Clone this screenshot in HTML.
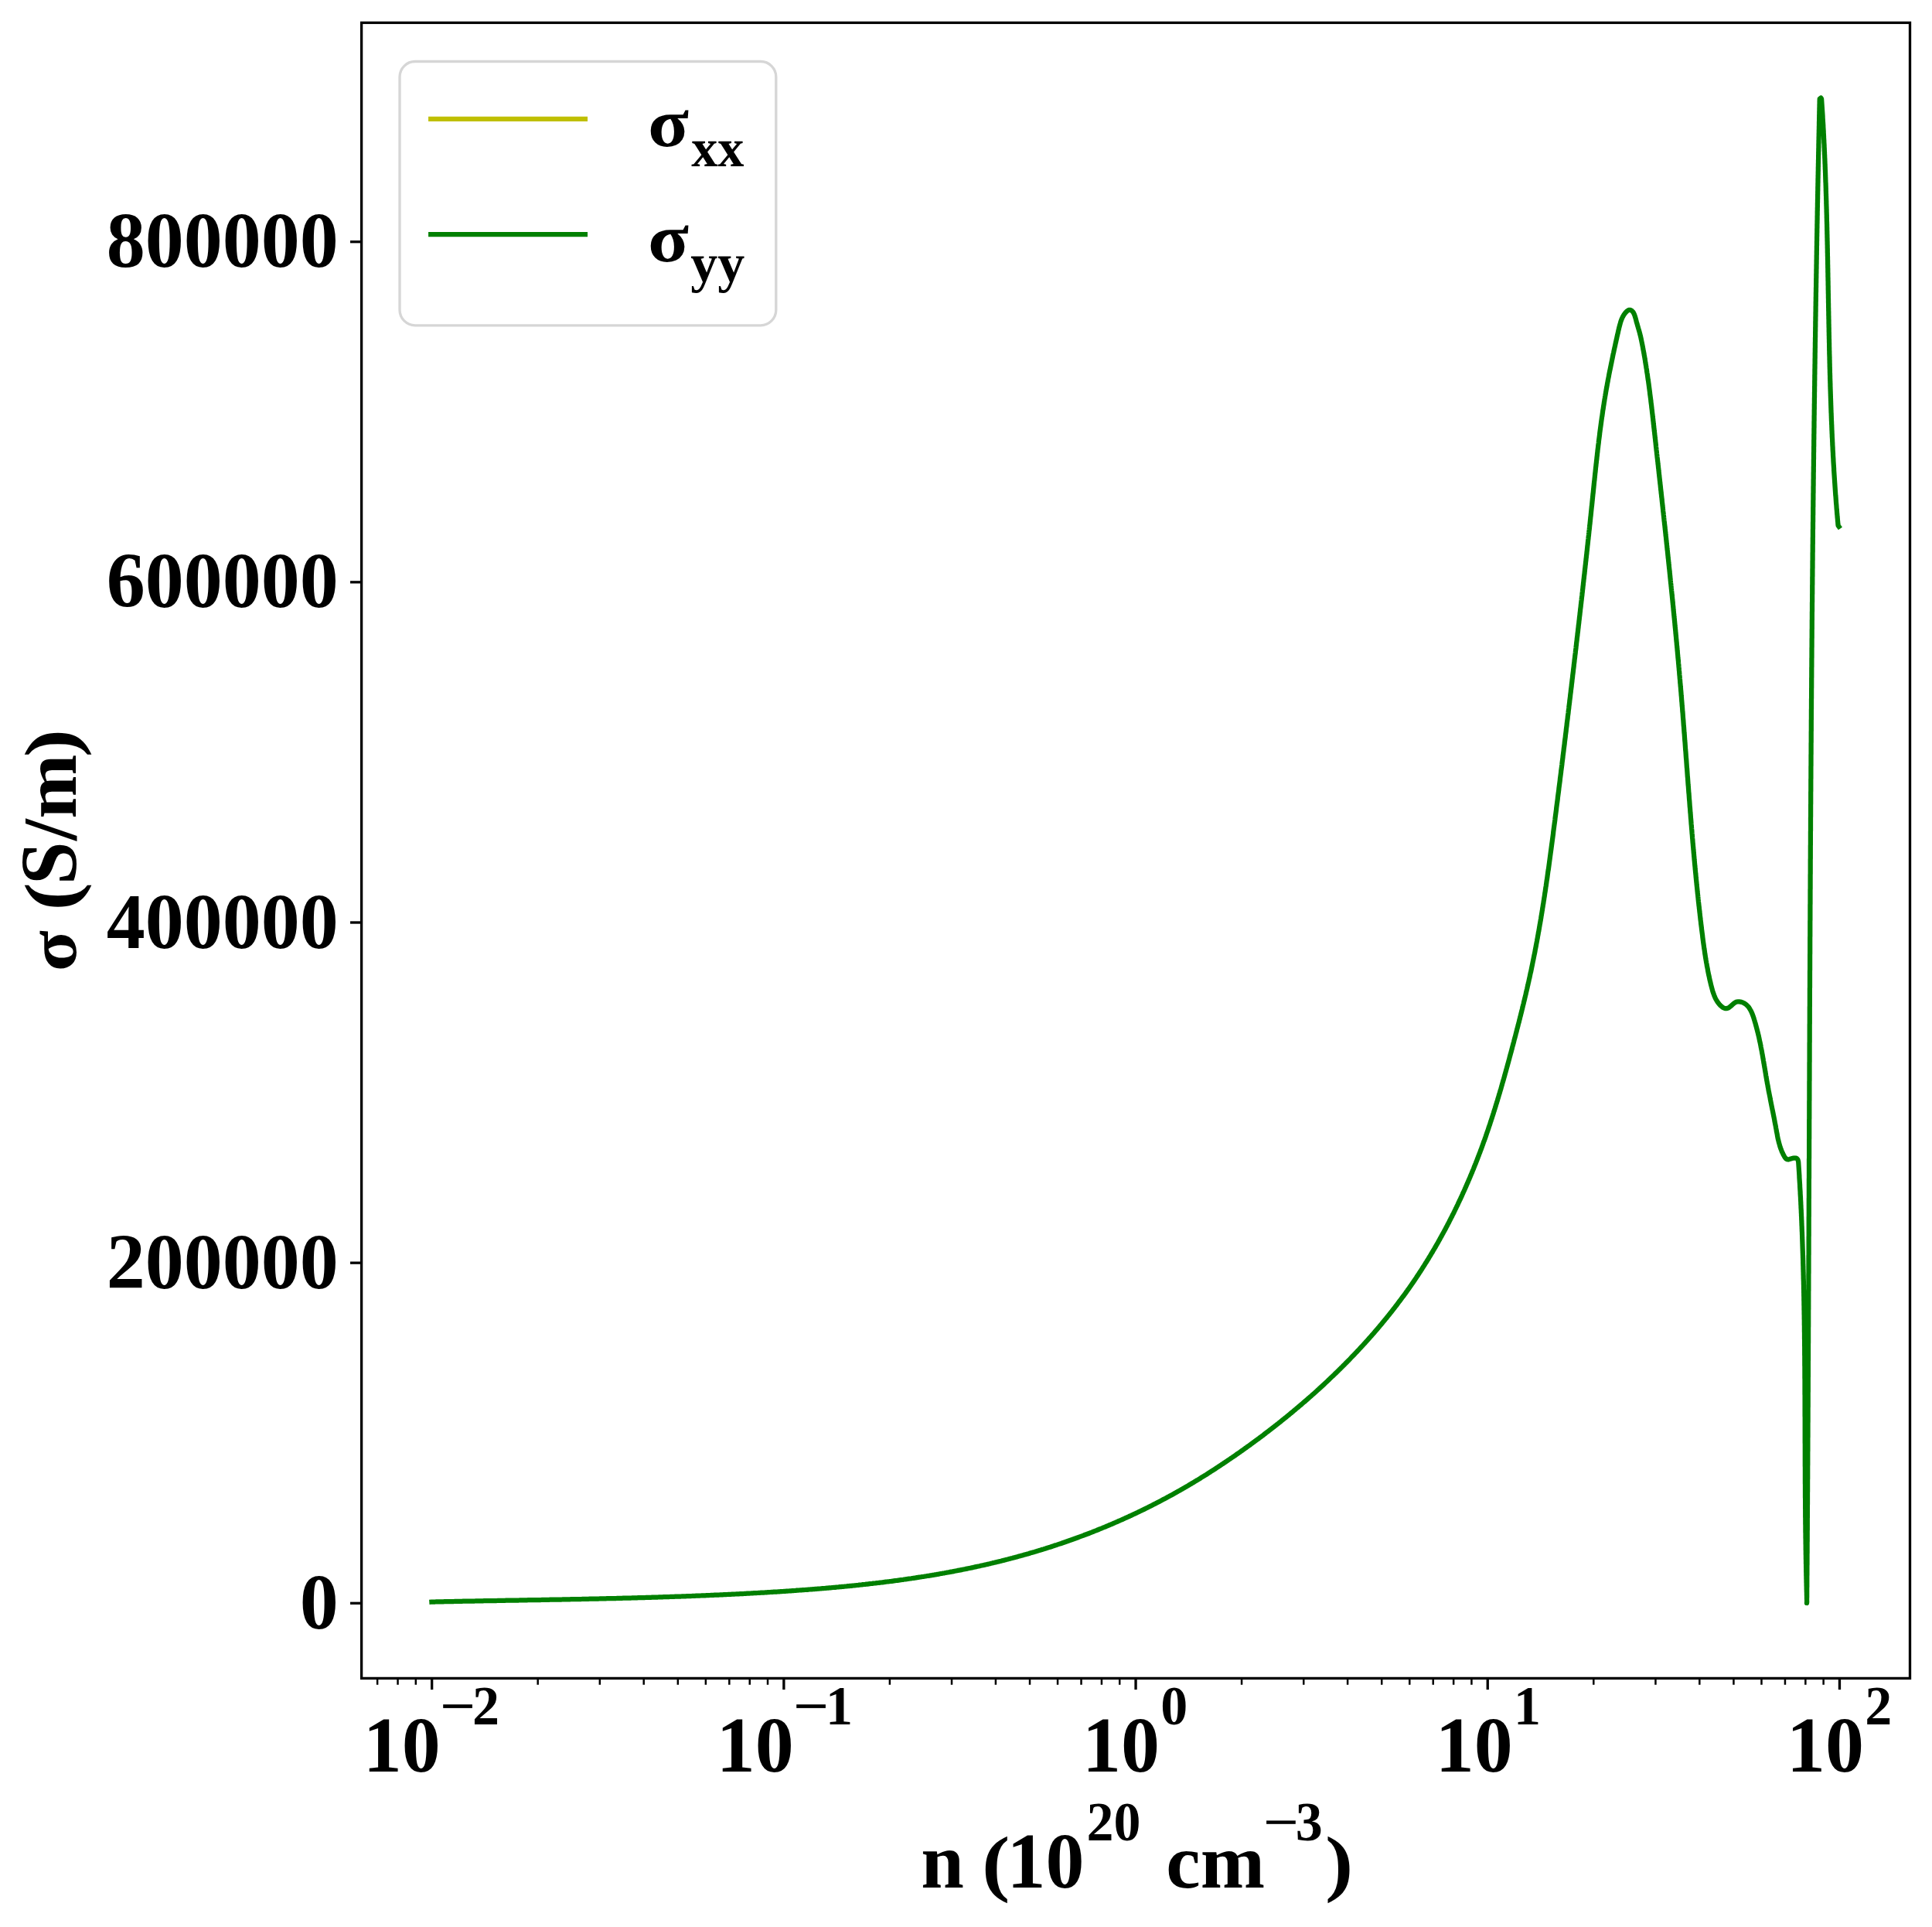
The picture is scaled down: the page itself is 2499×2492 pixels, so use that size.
<!DOCTYPE html>
<html><head><meta charset="utf-8"><title>sigma vs n</title>
<style>html,body{margin:0;padding:0;background:#fff;}svg{display:block;}text{font-family:"Liberation Serif",serif;font-weight:bold;fill:#000;}</style></head><body>
<svg xmlns="http://www.w3.org/2000/svg" width="2499" height="2492" viewBox="0 0 2499 2492">
<rect x="0" y="0" width="2499" height="2492" fill="#ffffff"/>
<clipPath id="ax"><rect x="467.6" y="29.4" width="2002.9" height="2141.0"/></clipPath>
<path d="M558.4,2071.6 L559.8,2071.5 L561.3,2071.5 L562.8,2071.5 L564.3,2071.4 L565.8,2071.4 L567.4,2071.4 L568.9,2071.3 L570.4,2071.3 L571.9,2071.3 L573.4,2071.3 L574.9,2071.2 L576.4,2071.2 L577.9,2071.2 L579.4,2071.1 L580.9,2071.1 L582.4,2071.1 L583.9,2071.0 L585.4,2071.0 L586.9,2071.0 L588.4,2070.9 L589.9,2070.9 L591.4,2070.9 L592.9,2070.9 L594.4,2070.8 L595.9,2070.8 L597.4,2070.8 L598.9,2070.7 L600.4,2070.7 L601.9,2070.7 L603.4,2070.7 L605.0,2070.6 L606.5,2070.6 L608.0,2070.6 L609.5,2070.5 L611.0,2070.5 L612.5,2070.5 L614.0,2070.5 L615.5,2070.4 L617.0,2070.4 L618.5,2070.4 L620.0,2070.4 L621.5,2070.3 L623.0,2070.3 L624.5,2070.3 L626.0,2070.2 L627.5,2070.2 L629.0,2070.2 L630.5,2070.2 L632.0,2070.1 L633.5,2070.1 L635.0,2070.1 L636.5,2070.1 L638.0,2070.0 L639.5,2070.0 L641.0,2070.0 L642.5,2070.0 L644.0,2069.9 L645.5,2069.9 L647.0,2069.9 L648.5,2069.8 L650.0,2069.8 L651.5,2069.8 L653.0,2069.8 L654.5,2069.7 L656.0,2069.7 L657.5,2069.7 L659.0,2069.7 L660.5,2069.6 L662.0,2069.6 L663.5,2069.6 L665.0,2069.6 L666.5,2069.5 L668.0,2069.5 L669.5,2069.5 L671.0,2069.5 L672.5,2069.4 L674.0,2069.4 L675.5,2069.4 L677.0,2069.4 L678.5,2069.3 L680.0,2069.3 L681.5,2069.3 L683.0,2069.2 L684.5,2069.2 L686.0,2069.2 L687.5,2069.2 L689.0,2069.1 L690.5,2069.1 L692.0,2069.1 L693.5,2069.1 L695.0,2069.0 L696.5,2069.0 L698.0,2069.0 L699.5,2069.0 L701.0,2068.9 L702.5,2068.9 L704.0,2068.9 L705.5,2068.8 L707.0,2068.8 L708.5,2068.8 L710.0,2068.8 L711.5,2068.7 L713.0,2068.7 L714.5,2068.7 L716.0,2068.7 L717.5,2068.6 L719.0,2068.6 L720.5,2068.6 L722.0,2068.5 L723.5,2068.5 L725.0,2068.5 L726.5,2068.5 L728.0,2068.4 L729.5,2068.4 L731.0,2068.4 L732.5,2068.3 L734.0,2068.3 L735.5,2068.3 L737.0,2068.3 L738.5,2068.2 L740.0,2068.2 L741.5,2068.2 L743.0,2068.1 L744.5,2068.1 L746.0,2068.1 L747.5,2068.1 L749.0,2068.0 L750.5,2068.0 L752.0,2068.0 L753.5,2067.9 L755.0,2067.9 L756.5,2067.9 L758.0,2067.8 L759.5,2067.8 L761.0,2067.8 L762.5,2067.7 L764.0,2067.7 L765.5,2067.7 L767.0,2067.6 L768.5,2067.6 L770.0,2067.6 L771.5,2067.5 L773.0,2067.5 L774.5,2067.5 L776.0,2067.4 L777.5,2067.4 L779.0,2067.4 L780.5,2067.3 L782.0,2067.3 L783.5,2067.3 L785.0,2067.2 L786.5,2067.2 L787.9,2067.2 L789.4,2067.1 L790.9,2067.1 L792.4,2067.1 L793.9,2067.0 L795.4,2067.0 L796.9,2067.0 L798.4,2066.9 L799.9,2066.9 L801.4,2066.9 L802.9,2066.8 L804.4,2066.8 L805.9,2066.7 L807.4,2066.7 L808.9,2066.7 L810.4,2066.6 L811.9,2066.6 L813.4,2066.5 L814.9,2066.5 L816.4,2066.5 L817.9,2066.4 L819.4,2066.4 L820.9,2066.3 L822.4,2066.3 L823.9,2066.3 L825.4,2066.2 L826.9,2066.2 L828.4,2066.1 L829.9,2066.1 L831.4,2066.1 L832.9,2066.0 L834.4,2066.0 L835.9,2065.9 L837.4,2065.9 L838.9,2065.8 L840.4,2065.8 L841.9,2065.8 L843.4,2065.7 L844.9,2065.7 L846.4,2065.6 L847.9,2065.6 L849.4,2065.5 L850.9,2065.5 L852.4,2065.4 L853.9,2065.4 L855.3,2065.3 L856.8,2065.3 L858.3,2065.2 L859.8,2065.2 L861.3,2065.1 L862.8,2065.1 L864.3,2065.0 L865.8,2065.0 L867.3,2064.9 L868.8,2064.9 L870.3,2064.8 L871.8,2064.8 L873.3,2064.7 L874.8,2064.7 L876.3,2064.6 L877.8,2064.6 L879.3,2064.5 L880.8,2064.5 L882.3,2064.4 L883.8,2064.4 L885.3,2064.3 L886.8,2064.3 L888.3,2064.2 L889.8,2064.1 L891.3,2064.1 L892.8,2064.0 L894.3,2064.0 L895.8,2063.9 L897.3,2063.9 L898.8,2063.8 L900.3,2063.7 L901.8,2063.7 L903.3,2063.6 L904.8,2063.6 L906.3,2063.5 L907.8,2063.4 L909.3,2063.4 L910.8,2063.3 L912.3,2063.3 L913.8,2063.2 L915.3,2063.1 L916.8,2063.1 L918.3,2063.0 L919.8,2062.9 L921.3,2062.9 L922.8,2062.8 L924.2,2062.7 L925.7,2062.7 L927.2,2062.6 L928.7,2062.5 L930.2,2062.5 L931.7,2062.4 L933.2,2062.3 L934.7,2062.3 L936.2,2062.2 L937.7,2062.1 L939.2,2062.1 L940.7,2062.0 L942.2,2061.9 L943.7,2061.9 L945.2,2061.8 L946.7,2061.7 L948.2,2061.6 L949.7,2061.6 L951.2,2061.5 L952.7,2061.4 L954.2,2061.3 L955.7,2061.3 L957.2,2061.2 L958.7,2061.1 L960.2,2061.0 L961.7,2061.0 L963.2,2060.9 L964.7,2060.8 L966.2,2060.7 L967.7,2060.6 L969.2,2060.6 L970.7,2060.5 L972.2,2060.4 L973.7,2060.3 L975.2,2060.2 L976.7,2060.1 L978.2,2060.1 L979.7,2060.0 L981.2,2059.9 L982.7,2059.8 L984.2,2059.7 L985.7,2059.6 L987.2,2059.5 L988.7,2059.5 L990.2,2059.4 L991.7,2059.3 L993.2,2059.2 L994.7,2059.1 L996.2,2059.0 L997.7,2058.9 L999.2,2058.8 L1000.7,2058.7 L1002.2,2058.6 L1003.7,2058.5 L1005.2,2058.5 L1006.7,2058.4 L1008.2,2058.3 L1009.7,2058.2 L1011.2,2058.1 L1012.7,2058.0 L1014.2,2057.9 L1015.7,2057.8 L1017.2,2057.7 L1018.7,2057.6 L1020.2,2057.5 L1021.7,2057.4 L1023.2,2057.3 L1024.7,2057.2 L1026.2,2057.1 L1027.7,2057.0 L1029.2,2056.9 L1030.7,2056.7 L1032.2,2056.6 L1033.7,2056.5 L1035.2,2056.4 L1036.7,2056.3 L1038.2,2056.2 L1039.7,2056.1 L1041.2,2056.0 L1042.7,2055.9 L1044.2,2055.8 L1045.7,2055.6 L1047.2,2055.5 L1048.7,2055.4 L1050.2,2055.3 L1051.7,2055.2 L1053.2,2055.1 L1054.7,2054.9 L1056.2,2054.8 L1057.7,2054.7 L1059.2,2054.6 L1060.7,2054.5 L1062.2,2054.3 L1063.7,2054.2 L1065.2,2054.1 L1066.7,2054.0 L1068.2,2053.8 L1069.7,2053.7 L1071.2,2053.6 L1072.7,2053.4 L1074.2,2053.3 L1075.7,2053.2 L1077.2,2053.0 L1078.7,2052.9 L1080.2,2052.8 L1081.7,2052.6 L1083.2,2052.5 L1084.7,2052.4 L1086.2,2052.2 L1087.7,2052.1 L1089.2,2051.9 L1090.6,2051.8 L1092.1,2051.7 L1093.6,2051.5 L1095.1,2051.4 L1096.6,2051.2 L1098.1,2051.1 L1099.6,2050.9 L1101.1,2050.8 L1102.6,2050.6 L1104.1,2050.5 L1105.6,2050.3 L1107.1,2050.2 L1108.6,2050.0 L1110.1,2049.9 L1111.6,2049.7 L1113.1,2049.5 L1114.6,2049.4 L1116.1,2049.2 L1117.6,2049.0 L1119.1,2048.9 L1120.6,2048.7 L1122.1,2048.6 L1123.5,2048.4 L1125.0,2048.2 L1126.5,2048.0 L1128.0,2047.9 L1129.5,2047.7 L1131.0,2047.5 L1132.5,2047.4 L1134.0,2047.2 L1135.5,2047.0 L1137.0,2046.8 L1138.5,2046.6 L1140.0,2046.5 L1141.5,2046.3 L1142.9,2046.1 L1144.4,2045.9 L1145.9,2045.7 L1147.4,2045.5 L1148.9,2045.3 L1150.4,2045.2 L1151.9,2045.0 L1153.4,2044.8 L1154.9,2044.6 L1156.3,2044.4 L1157.8,2044.2 L1159.3,2044.0 L1160.8,2043.8 L1162.3,2043.6 L1163.8,2043.4 L1165.3,2043.2 L1166.8,2043.0 L1168.3,2042.8 L1169.7,2042.5 L1171.2,2042.3 L1172.7,2042.1 L1174.2,2041.9 L1175.7,2041.7 L1177.2,2041.5 L1178.7,2041.3 L1180.1,2041.0 L1181.6,2040.8 L1183.1,2040.6 L1184.6,2040.4 L1186.1,2040.1 L1187.6,2039.9 L1189.0,2039.7 L1190.5,2039.5 L1192.0,2039.2 L1193.5,2039.0 L1195.0,2038.8 L1196.4,2038.5 L1197.9,2038.3 L1199.4,2038.0 L1200.9,2037.8 L1202.4,2037.6 L1203.8,2037.3 L1205.3,2037.1 L1206.8,2036.8 L1208.3,2036.6 L1209.8,2036.3 L1211.2,2036.1 L1212.7,2035.8 L1214.2,2035.6 L1215.7,2035.3 L1217.1,2035.0 L1218.6,2034.8 L1220.1,2034.5 L1221.6,2034.3 L1223.0,2034.0 L1224.5,2033.7 L1226.0,2033.5 L1227.5,2033.2 L1228.9,2032.9 L1230.4,2032.6 L1231.9,2032.4 L1233.4,2032.1 L1234.8,2031.8 L1236.3,2031.5 L1237.8,2031.2 L1239.2,2030.9 L1240.7,2030.7 L1242.2,2030.4 L1243.7,2030.1 L1245.1,2029.8 L1246.6,2029.5 L1248.1,2029.2 L1249.5,2028.9 L1251.0,2028.6 L1252.5,2028.3 L1253.9,2028.0 L1255.4,2027.7 L1256.9,2027.4 L1258.3,2027.1 L1259.8,2026.7 L1261.3,2026.4 L1262.7,2026.1 L1264.2,2025.8 L1265.7,2025.5 L1267.1,2025.2 L1268.6,2024.8 L1270.0,2024.5 L1271.5,2024.2 L1273.0,2023.9 L1274.4,2023.5 L1275.9,2023.2 L1277.3,2022.9 L1278.8,2022.5 L1280.3,2022.2 L1281.7,2021.8 L1283.2,2021.5 L1284.6,2021.1 L1286.1,2020.8 L1287.5,2020.4 L1289.0,2020.1 L1290.5,2019.7 L1291.9,2019.4 L1293.4,2019.0 L1294.8,2018.7 L1296.3,2018.3 L1297.7,2017.9 L1299.2,2017.6 L1300.6,2017.2 L1302.1,2016.8 L1303.5,2016.5 L1305.0,2016.1 L1306.4,2015.7 L1307.9,2015.3 L1309.3,2015.0 L1310.8,2014.6 L1312.2,2014.2 L1313.7,2013.8 L1315.1,2013.4 L1316.6,2013.0 L1318.0,2012.6 L1319.5,2012.2 L1320.9,2011.8 L1322.3,2011.4 L1323.8,2011.0 L1325.2,2010.6 L1326.7,2010.2 L1328.1,2009.8 L1329.6,2009.4 L1331.0,2009.0 L1332.4,2008.5 L1333.9,2008.1 L1335.3,2007.7 L1336.8,2007.3 L1338.2,2006.9 L1339.6,2006.4 L1341.1,2006.0 L1342.5,2005.6 L1343.9,2005.1 L1345.4,2004.7 L1346.8,2004.3 L1348.2,2003.8 L1349.7,2003.4 L1351.1,2002.9 L1352.5,2002.5 L1354.0,2002.0 L1355.4,2001.6 L1356.8,2001.1 L1358.2,2000.7 L1359.7,2000.2 L1361.1,1999.7 L1362.5,1999.3 L1364.0,1998.8 L1365.4,1998.3 L1366.8,1997.9 L1368.2,1997.4 L1369.7,1996.9 L1371.1,1996.4 L1372.5,1996.0 L1373.9,1995.5 L1375.3,1995.0 L1376.8,1994.5 L1378.2,1994.0 L1379.6,1993.5 L1381.0,1993.0 L1382.4,1992.5 L1383.8,1992.0 L1385.3,1991.5 L1386.7,1991.0 L1388.1,1990.5 L1389.5,1990.0 L1390.9,1989.5 L1392.3,1989.0 L1393.7,1988.5 L1395.1,1988.0 L1396.5,1987.4 L1398.0,1986.9 L1399.4,1986.4 L1400.8,1985.9 L1402.2,1985.3 L1403.6,1984.8 L1405.0,1984.3 L1406.4,1983.7 L1407.8,1983.2 L1409.2,1982.7 L1410.6,1982.1 L1412.0,1981.6 L1413.4,1981.0 L1414.8,1980.5 L1416.2,1979.9 L1417.6,1979.4 L1419.0,1978.8 L1420.4,1978.3 L1421.7,1977.7 L1423.1,1977.1 L1424.5,1976.6 L1425.9,1976.0 L1427.3,1975.4 L1428.7,1974.9 L1430.1,1974.3 L1431.5,1973.7 L1432.9,1973.1 L1434.2,1972.5 L1435.6,1972.0 L1437.0,1971.4 L1438.4,1970.8 L1439.8,1970.2 L1441.1,1969.6 L1442.5,1969.0 L1443.9,1968.4 L1445.3,1967.8 L1446.6,1967.2 L1448.0,1966.6 L1449.4,1966.0 L1450.8,1965.4 L1452.1,1964.8 L1453.5,1964.2 L1454.9,1963.5 L1456.2,1962.9 L1457.6,1962.3 L1459.0,1961.7 L1460.3,1961.1 L1461.7,1960.4 L1463.1,1959.8 L1464.4,1959.2 L1465.8,1958.5 L1467.1,1957.9 L1468.5,1957.3 L1469.9,1956.6 L1471.2,1956.0 L1472.6,1955.3 L1473.9,1954.7 L1475.3,1954.0 L1476.6,1953.4 L1478.0,1952.7 L1479.3,1952.1 L1480.7,1951.4 L1482.0,1950.7 L1483.4,1950.1 L1484.7,1949.4 L1486.0,1948.7 L1487.4,1948.1 L1488.7,1947.4 L1490.1,1946.7 L1491.4,1946.0 L1492.7,1945.3 L1494.1,1944.7 L1495.4,1944.0 L1496.7,1943.3 L1498.1,1942.6 L1499.4,1941.9 L1500.7,1941.2 L1502.1,1940.5 L1503.4,1939.8 L1504.7,1939.1 L1506.0,1938.4 L1507.4,1937.7 L1508.7,1937.0 L1510.0,1936.3 L1511.3,1935.6 L1512.6,1934.8 L1514.0,1934.1 L1515.3,1933.4 L1516.6,1932.7 L1517.9,1932.0 L1519.2,1931.2 L1520.5,1930.5 L1521.8,1929.8 L1523.1,1929.0 L1524.5,1928.3 L1525.8,1927.6 L1527.1,1926.8 L1528.4,1926.1 L1529.7,1925.3 L1531.0,1924.6 L1532.3,1923.8 L1533.6,1923.1 L1534.9,1922.3 L1536.1,1921.6 L1537.4,1920.8 L1538.7,1920.0 L1540.0,1919.3 L1541.3,1918.5 L1542.6,1917.7 L1543.9,1917.0 L1545.2,1916.2 L1546.5,1915.4 L1547.7,1914.6 L1549.0,1913.9 L1550.3,1913.1 L1551.6,1912.3 L1552.9,1911.5 L1554.1,1910.7 L1555.4,1909.9 L1556.7,1909.1 L1558.0,1908.3 L1559.2,1907.6 L1560.5,1906.8 L1561.8,1906.0 L1563.0,1905.2 L1564.3,1904.3 L1565.6,1903.5 L1566.8,1902.7 L1568.1,1901.9 L1569.3,1901.1 L1570.6,1900.3 L1571.9,1899.5 L1573.1,1898.7 L1574.4,1897.8 L1575.6,1897.0 L1576.9,1896.2 L1578.1,1895.4 L1579.4,1894.5 L1580.6,1893.7 L1581.9,1892.9 L1583.1,1892.0 L1584.4,1891.2 L1585.6,1890.4 L1586.9,1889.5 L1588.1,1888.7 L1589.4,1887.8 L1590.6,1887.0 L1591.8,1886.2 L1593.1,1885.3 L1594.3,1884.5 L1595.5,1883.6 L1596.8,1882.8 L1598.0,1881.9 L1599.2,1881.0 L1600.5,1880.2 L1601.7,1879.3 L1602.9,1878.5 L1604.2,1877.6 L1605.4,1876.7 L1606.6,1875.9 L1607.8,1875.0 L1609.1,1874.1 L1610.3,1873.2 L1611.5,1872.4 L1612.7,1871.5 L1613.9,1870.6 L1615.2,1869.7 L1616.4,1868.9 L1617.6,1868.0 L1618.8,1867.1 L1620.0,1866.2 L1621.2,1865.3 L1622.4,1864.4 L1623.6,1863.5 L1624.8,1862.7 L1626.0,1861.8 L1627.3,1860.9 L1628.5,1860.0 L1629.7,1859.1 L1630.9,1858.2 L1632.1,1857.3 L1633.3,1856.4 L1634.5,1855.5 L1635.7,1854.6 L1636.8,1853.6 L1638.0,1852.7 L1639.2,1851.8 L1640.4,1850.9 L1641.6,1850.0 L1642.8,1849.1 L1644.0,1848.2 L1645.2,1847.2 L1646.4,1846.3 L1647.5,1845.4 L1648.7,1844.5 L1649.9,1843.6 L1651.1,1842.6 L1652.3,1841.7 L1653.4,1840.8 L1654.6,1839.8 L1655.8,1838.9 L1657.0,1838.0 L1658.1,1837.0 L1659.3,1836.1 L1660.5,1835.1 L1661.6,1834.2 L1662.8,1833.3 L1664.0,1832.3 L1665.1,1831.4 L1666.3,1830.4 L1667.5,1829.5 L1668.6,1828.5 L1669.8,1827.6 L1670.9,1826.6 L1672.1,1825.7 L1673.2,1824.7 L1674.4,1823.7 L1675.6,1822.8 L1676.7,1821.8 L1677.8,1820.8 L1679.0,1819.9 L1680.1,1818.9 L1681.3,1817.9 L1682.4,1817.0 L1683.6,1816.0 L1684.7,1815.0 L1685.8,1814.0 L1687.0,1813.1 L1688.1,1812.1 L1689.2,1811.1 L1690.4,1810.1 L1691.5,1809.1 L1692.6,1808.1 L1693.8,1807.1 L1694.9,1806.2 L1696.0,1805.2 L1697.1,1804.2 L1698.3,1803.2 L1699.4,1802.2 L1700.5,1801.2 L1701.6,1800.2 L1702.7,1799.2 L1703.8,1798.2 L1705.0,1797.2 L1706.1,1796.1 L1707.2,1795.1 L1708.3,1794.1 L1709.4,1793.1 L1710.5,1792.1 L1711.6,1791.1 L1712.7,1790.1 L1713.8,1789.0 L1714.9,1788.0 L1716.0,1787.0 L1717.1,1786.0 L1718.2,1784.9 L1719.3,1783.9 L1720.3,1782.9 L1721.4,1781.8 L1722.5,1780.8 L1723.6,1779.8 L1724.7,1778.7 L1725.8,1777.7 L1726.8,1776.6 L1727.9,1775.6 L1729.0,1774.6 L1730.1,1773.5 L1731.1,1772.5 L1732.2,1771.4 L1733.3,1770.4 L1734.3,1769.3 L1735.4,1768.2 L1736.5,1767.2 L1737.5,1766.1 L1738.6,1765.1 L1739.7,1764.0 L1740.7,1762.9 L1741.8,1761.9 L1742.8,1760.8 L1743.9,1759.7 L1744.9,1758.7 L1746.0,1757.6 L1747.0,1756.5 L1748.0,1755.4 L1749.1,1754.3 L1750.1,1753.3 L1751.2,1752.2 L1752.2,1751.1 L1753.2,1750.0 L1754.3,1748.9 L1755.3,1747.8 L1756.3,1746.7 L1757.4,1745.6 L1758.4,1744.5 L1759.4,1743.4 L1760.4,1742.3 L1761.4,1741.2 L1762.5,1740.1 L1763.5,1739.0 L1764.5,1737.9 L1765.5,1736.8 L1766.5,1735.7 L1767.5,1734.6 L1768.5,1733.5 L1769.5,1732.4 L1770.5,1731.2 L1771.5,1730.1 L1772.5,1729.0 L1773.5,1727.9 L1774.5,1726.7 L1775.5,1725.6 L1776.5,1724.5 L1777.4,1723.4 L1778.4,1722.2 L1779.4,1721.1 L1780.4,1719.9 L1781.4,1718.8 L1782.3,1717.7 L1783.3,1716.5 L1784.3,1715.4 L1785.2,1714.2 L1786.2,1713.1 L1787.2,1711.9 L1788.1,1710.8 L1789.1,1709.6 L1790.0,1708.5 L1791.0,1707.3 L1791.9,1706.1 L1792.9,1705.0 L1793.8,1703.8 L1794.8,1702.7 L1795.7,1701.5 L1796.7,1700.3 L1797.6,1699.1 L1798.5,1698.0 L1799.5,1696.8 L1800.4,1695.6 L1801.3,1694.4 L1802.2,1693.3 L1803.2,1692.1 L1804.1,1690.9 L1805.0,1689.7 L1805.9,1688.5 L1806.8,1687.3 L1807.7,1686.1 L1808.6,1684.9 L1809.5,1683.7 L1810.4,1682.5 L1811.3,1681.3 L1812.2,1680.1 L1813.1,1678.9 L1814.0,1677.7 L1814.9,1676.5 L1815.8,1675.3 L1816.7,1674.1 L1817.6,1672.9 L1818.4,1671.7 L1819.3,1670.5 L1820.2,1669.2 L1821.0,1668.0 L1821.9,1666.8 L1822.8,1665.6 L1823.6,1664.3 L1824.5,1663.1 L1825.4,1661.9 L1826.2,1660.6 L1827.1,1659.4 L1827.9,1658.2 L1828.8,1656.9 L1829.6,1655.7 L1830.4,1654.5 L1831.3,1653.2 L1832.1,1652.0 L1832.9,1650.7 L1833.8,1649.5 L1834.6,1648.2 L1835.4,1647.0 L1836.2,1645.7 L1837.1,1644.4 L1837.9,1643.2 L1838.7,1641.9 L1839.5,1640.7 L1840.3,1639.4 L1841.1,1638.1 L1841.9,1636.9 L1842.7,1635.6 L1843.5,1634.3 L1844.3,1633.1 L1845.1,1631.8 L1845.9,1630.5 L1846.7,1629.2 L1847.5,1628.0 L1848.2,1626.7 L1849.0,1625.4 L1849.8,1624.1 L1850.6,1622.8 L1851.3,1621.5 L1852.1,1620.3 L1852.9,1619.0 L1853.6,1617.7 L1854.4,1616.4 L1855.2,1615.1 L1855.9,1613.8 L1856.7,1612.5 L1857.4,1611.2 L1858.2,1609.9 L1858.9,1608.6 L1859.7,1607.3 L1860.4,1606.0 L1861.1,1604.7 L1861.9,1603.4 L1862.6,1602.1 L1863.3,1600.7 L1864.1,1599.4 L1864.8,1598.1 L1865.5,1596.8 L1866.2,1595.5 L1866.9,1594.2 L1867.7,1592.8 L1868.4,1591.5 L1869.1,1590.2 L1869.8,1588.9 L1870.5,1587.6 L1871.2,1586.2 L1871.9,1584.9 L1872.6,1583.6 L1873.3,1582.2 L1874.0,1580.9 L1874.7,1579.6 L1875.3,1578.2 L1876.0,1576.9 L1876.7,1575.6 L1877.4,1574.2 L1878.1,1572.9 L1878.7,1571.5 L1879.4,1570.2 L1880.1,1568.9 L1880.8,1567.5 L1881.4,1566.2 L1882.1,1564.8 L1882.7,1563.5 L1883.4,1562.1 L1884.0,1560.8 L1884.7,1559.4 L1885.4,1558.1 L1886.0,1556.7 L1886.6,1555.3 L1887.3,1554.0 L1887.9,1552.6 L1888.6,1551.3 L1889.2,1549.9 L1889.8,1548.5 L1890.5,1547.2 L1891.1,1545.8 L1891.7,1544.5 L1892.3,1543.1 L1892.9,1541.7 L1893.6,1540.3 L1894.2,1539.0 L1894.8,1537.6 L1895.4,1536.2 L1896.0,1534.9 L1896.6,1533.5 L1897.2,1532.1 L1897.8,1530.7 L1898.4,1529.4 L1899.0,1528.0 L1899.6,1526.6 L1900.2,1525.2 L1900.8,1523.8 L1901.4,1522.5 L1901.9,1521.1 L1902.5,1519.7 L1903.1,1518.3 L1903.7,1516.9 L1904.3,1515.5 L1904.8,1514.1 L1905.4,1512.8 L1906.0,1511.4 L1906.5,1510.0 L1907.1,1508.6 L1907.6,1507.2 L1908.2,1505.8 L1908.8,1504.4 L1909.3,1503.0 L1909.9,1501.6 L1910.4,1500.2 L1911.0,1498.8 L1911.5,1497.4 L1912.0,1496.0 L1912.6,1494.6 L1913.1,1493.2 L1913.6,1491.8 L1914.2,1490.4 L1914.7,1489.0 L1915.2,1487.6 L1915.8,1486.2 L1916.3,1484.8 L1916.8,1483.4 L1917.3,1482.0 L1917.8,1480.6 L1918.3,1479.2 L1918.8,1477.7 L1919.3,1476.3 L1919.9,1474.9 L1920.4,1473.5 L1920.9,1472.1 L1921.4,1470.7 L1921.9,1469.3 L1922.3,1467.9 L1922.8,1466.4 L1923.3,1465.0 L1923.8,1463.6 L1924.3,1462.2 L1924.8,1460.8 L1925.3,1459.4 L1925.7,1457.9 L1926.2,1456.5 L1926.7,1455.1 L1927.2,1453.7 L1927.6,1452.3 L1928.1,1450.8 L1928.6,1449.4 L1929.0,1448.0 L1929.5,1446.6 L1930.0,1445.1 L1930.4,1443.7 L1930.9,1442.3 L1931.3,1440.9 L1931.8,1439.4 L1932.2,1438.0 L1932.7,1436.6 L1933.1,1435.2 L1933.6,1433.7 L1934.0,1432.3 L1934.5,1430.9 L1934.9,1429.4 L1935.3,1428.0 L1935.8,1426.6 L1936.2,1425.1 L1936.7,1423.7 L1937.1,1422.3 L1937.5,1420.8 L1938.0,1419.4 L1938.4,1418.0 L1938.8,1416.5 L1939.2,1415.1 L1939.7,1413.7 L1940.1,1412.2 L1940.5,1410.8 L1940.9,1409.4 L1941.4,1407.9 L1941.8,1406.5 L1942.2,1405.0 L1942.6,1403.6 L1943.0,1402.2 L1943.4,1400.7 L1943.8,1399.3 L1944.3,1397.8 L1944.7,1396.4 L1945.1,1395.0 L1945.5,1393.5 L1945.9,1392.1 L1946.3,1390.6 L1946.7,1389.2 L1947.1,1387.7 L1947.5,1386.3 L1947.9,1384.9 L1948.3,1383.4 L1948.7,1382.0 L1949.1,1380.5 L1949.5,1379.1 L1949.9,1377.6 L1950.3,1376.2 L1950.7,1374.7 L1951.1,1373.3 L1951.5,1371.8 L1951.9,1370.4 L1952.3,1369.0 L1952.6,1367.5 L1953.0,1366.1 L1953.4,1364.6 L1953.8,1363.2 L1954.2,1361.7 L1954.6,1360.3 L1955.0,1358.8 L1955.4,1357.4 L1955.8,1355.9 L1956.1,1354.5 L1956.5,1353.0 L1956.9,1351.6 L1957.3,1350.1 L1957.7,1348.7 L1958.1,1347.2 L1958.4,1345.8 L1958.8,1344.3 L1959.2,1342.9 L1959.6,1341.4 L1960.0,1340.0 L1960.4,1338.5 L1960.7,1337.0 L1961.1,1335.6 L1961.5,1334.1 L1961.9,1332.7 L1962.2,1331.2 L1962.6,1329.8 L1963.0,1328.3 L1963.4,1326.9 L1963.7,1325.4 L1964.1,1324.0 L1964.5,1322.5 L1964.9,1321.1 L1965.2,1319.6 L1965.6,1318.1 L1966.0,1316.7 L1966.3,1315.2 L1966.7,1313.8 L1967.1,1312.3 L1967.4,1310.9 L1967.8,1309.4 L1968.2,1307.9 L1968.5,1306.5 L1968.9,1305.0 L1969.2,1303.6 L1969.6,1302.1 L1969.9,1300.7 L1970.3,1299.2 L1970.7,1297.7 L1971.0,1296.3 L1971.4,1294.8 L1971.7,1293.4 L1972.1,1291.9 L1972.4,1290.4 L1972.8,1289.0 L1973.1,1287.5 L1973.5,1286.0 L1973.8,1284.6 L1974.1,1283.1 L1974.5,1281.7 L1974.8,1280.2 L1975.2,1278.7 L1975.5,1277.3 L1975.8,1275.8 L1976.2,1274.3 L1976.5,1272.9 L1976.8,1271.4 L1977.2,1270.0 L1977.5,1268.5 L1977.8,1267.0 L1978.1,1265.6 L1978.5,1264.1 L1978.8,1262.6 L1979.1,1261.2 L1979.4,1259.7 L1979.7,1258.2 L1980.1,1256.8 L1980.4,1255.3 L1980.7,1253.8 L1981.0,1252.4 L1981.3,1250.9 L1981.6,1249.4 L1981.9,1248.0 L1982.2,1246.5 L1982.5,1245.0 L1982.8,1243.5 L1983.1,1242.1 L1983.4,1240.6 L1983.7,1239.1 L1984.0,1237.7 L1984.3,1236.2 L1984.6,1234.7 L1984.9,1233.3 L1985.2,1231.8 L1985.5,1230.3 L1985.7,1228.8 L1986.0,1227.4 L1986.3,1225.9 L1986.6,1224.4 L1986.9,1222.9 L1987.1,1221.5 L1987.4,1220.0 L1987.7,1218.5 L1988.0,1217.0 L1988.2,1215.6 L1988.5,1214.1 L1988.8,1212.6 L1989.0,1211.1 L1989.3,1209.7 L1989.6,1208.2 L1989.8,1206.7 L1990.1,1205.2 L1990.4,1203.8 L1990.6,1202.3 L1990.9,1200.8 L1991.1,1199.3 L1991.4,1197.9 L1991.6,1196.4 L1991.9,1194.9 L1992.2,1193.4 L1992.4,1191.9 L1992.7,1190.5 L1992.9,1189.0 L1993.2,1187.5 L1993.4,1186.0 L1993.6,1184.6 L1993.9,1183.1 L1994.1,1181.6 L1994.4,1180.1 L1994.6,1178.6 L1994.9,1177.2 L1995.1,1175.7 L1995.3,1174.2 L1995.6,1172.7 L1995.8,1171.2 L1996.0,1169.8 L1996.3,1168.3 L1996.5,1166.8 L1996.7,1165.3 L1997.0,1163.8 L1997.2,1162.3 L1997.4,1160.9 L1997.7,1159.4 L1997.9,1157.9 L1998.1,1156.4 L1998.3,1154.9 L1998.6,1153.4 L1998.8,1152.0 L1999.0,1150.5 L1999.2,1149.0 L1999.4,1147.5 L1999.7,1146.0 L1999.9,1144.5 L2000.1,1143.1 L2000.3,1141.6 L2000.5,1140.1 L2000.7,1138.6 L2001.0,1137.1 L2001.2,1135.6 L2001.4,1134.2 L2001.6,1132.7 L2001.8,1131.2 L2002.0,1129.7 L2002.2,1128.2 L2002.4,1126.7 L2002.7,1125.2 L2002.9,1123.8 L2003.1,1122.3 L2003.3,1120.8 L2003.5,1119.3 L2003.7,1117.8 L2003.9,1116.3 L2004.1,1114.8 L2004.3,1113.4 L2004.5,1111.9 L2004.7,1110.4 L2004.9,1108.9 L2005.1,1107.4 L2005.3,1105.9 L2005.5,1104.4 L2005.7,1102.9 L2005.9,1101.5 L2006.1,1100.0 L2006.3,1098.5 L2006.5,1097.0 L2006.7,1095.5 L2006.9,1094.0 L2007.1,1092.5 L2007.3,1091.0 L2007.5,1089.6 L2007.7,1088.1 L2007.9,1086.6 L2008.1,1085.1 L2008.3,1083.6 L2008.5,1082.1 L2008.7,1080.6 L2008.9,1079.1 L2009.1,1077.7 L2009.2,1076.2 L2009.4,1074.7 L2009.6,1073.2 L2009.8,1071.7 L2010.0,1070.2 L2010.2,1068.7 L2010.4,1067.2 L2010.6,1065.7 L2010.8,1064.3 L2011.0,1062.8 L2011.2,1061.3 L2011.4,1059.8 L2011.5,1058.3 L2011.7,1056.8 L2011.9,1055.3 L2012.1,1053.8 L2012.3,1052.3 L2012.5,1050.9 L2012.7,1049.4 L2012.9,1047.9 L2013.1,1046.4 L2013.2,1044.9 L2013.4,1043.4 L2013.6,1041.9 L2013.8,1040.4 L2014.0,1038.9 L2014.2,1037.5 L2014.4,1036.0 L2014.6,1034.5 L2014.8,1033.0 L2014.9,1031.5 L2015.1,1030.0 L2015.3,1028.5 L2015.5,1027.0 L2015.7,1025.5 L2015.9,1024.1 L2016.1,1022.6 L2016.3,1021.1 L2016.4,1019.6 L2016.6,1018.1 L2016.8,1016.6 L2017.0,1015.1 L2017.2,1013.6 L2017.4,1012.1 L2017.6,1010.7 L2017.8,1009.2 L2017.9,1007.7 L2018.1,1006.2 L2018.3,1004.7 L2018.5,1003.2 L2018.7,1001.7 L2018.9,1000.2 L2019.1,998.7 L2019.2,997.2 L2019.4,995.8 L2019.6,994.3 L2019.8,992.8 L2020.0,991.3 L2020.2,989.8 L2020.4,988.3 L2020.5,986.8 L2020.7,985.3 L2020.9,983.8 L2021.1,982.4 L2021.3,980.9 L2021.5,979.4 L2021.6,977.9 L2021.8,976.4 L2022.0,974.9 L2022.2,973.4 L2022.4,971.9 L2022.6,970.4 L2022.7,968.9 L2022.9,967.5 L2023.1,966.0 L2023.3,964.5 L2023.5,963.0 L2023.7,961.5 L2023.8,960.0 L2024.0,958.5 L2024.2,957.0 L2024.4,955.5 L2024.6,954.1 L2024.8,952.6 L2024.9,951.1 L2025.1,949.6 L2025.3,948.1 L2025.5,946.6 L2025.7,945.1 L2025.8,943.6 L2026.0,942.1 L2026.2,940.6 L2026.4,939.2 L2026.6,937.7 L2026.7,936.2 L2026.9,934.7 L2027.1,933.2 L2027.3,931.7 L2027.5,930.2 L2027.7,928.7 L2027.8,927.2 L2028.0,925.7 L2028.2,924.3 L2028.4,922.8 L2028.6,921.3 L2028.7,919.8 L2028.9,918.3 L2029.1,916.8 L2029.3,915.3 L2029.4,913.8 L2029.6,912.3 L2029.8,910.8 L2030.0,909.4 L2030.2,907.9 L2030.3,906.4 L2030.5,904.9 L2030.7,903.4 L2030.9,901.9 L2031.1,900.4 L2031.2,898.9 L2031.4,897.4 L2031.6,895.9 L2031.8,894.5 L2031.9,893.0 L2032.1,891.5 L2032.3,890.0 L2032.5,888.5 L2032.7,887.0 L2032.8,885.5 L2033.0,884.0 L2033.2,882.5 L2033.4,881.0 L2033.5,879.6 L2033.7,878.1 L2033.9,876.6 L2034.1,875.1 L2034.2,873.6 L2034.4,872.1 L2034.6,870.6 L2034.8,869.1 L2035.0,867.6 L2035.1,866.1 L2035.3,864.7 L2035.5,863.2 L2035.7,861.7 L2035.8,860.2 L2036.0,858.7 L2036.2,857.2 L2036.4,855.7 L2036.5,854.2 L2036.7,852.7 L2036.9,851.2 L2037.1,849.8 L2037.2,848.3 L2037.4,846.8 L2037.6,845.3 L2037.8,843.8 L2037.9,842.3 L2038.1,840.8 L2038.3,839.3 L2038.5,837.8 L2038.6,836.4 L2038.8,834.9 L2039.0,833.4 L2039.1,831.9 L2039.3,830.4 L2039.5,828.9 L2039.7,827.4 L2039.8,825.9 L2040.0,824.4 L2040.2,822.9 L2040.4,821.5 L2040.5,820.0 L2040.7,818.5 L2040.9,817.0 L2041.1,815.5 L2041.2,814.0 L2041.4,812.5 L2041.6,811.0 L2041.7,809.5 L2041.9,808.0 L2042.1,806.6 L2042.3,805.1 L2042.4,803.6 L2042.6,802.1 L2042.8,800.6 L2042.9,799.1 L2043.1,797.6 L2043.3,796.1 L2043.5,794.6 L2043.6,793.2 L2043.8,791.7 L2044.0,790.2 L2044.1,788.7 L2044.3,787.2 L2044.5,785.7 L2044.7,784.2 L2044.8,782.7 L2045.0,781.2 L2045.2,779.7 L2045.3,778.3 L2045.5,776.8 L2045.7,775.3 L2045.8,773.8 L2046.0,772.3 L2046.2,770.8 L2046.4,769.3 L2046.5,767.8 L2046.7,766.3 L2046.9,764.8 L2047.0,763.4 L2047.2,761.9 L2047.4,760.4 L2047.5,758.9 L2047.7,757.4 L2047.9,755.9 L2048.0,754.4 L2048.2,752.9 L2048.4,751.4 L2048.5,749.9 L2048.7,748.5 L2048.9,747.0 L2049.0,745.5 L2049.2,744.0 L2049.4,742.5 L2049.6,741.0 L2049.7,739.5 L2049.9,738.0 L2050.0,736.5 L2050.2,735.0 L2050.4,733.6 L2050.5,732.1 L2050.7,730.6 L2050.9,729.1 L2051.0,727.6 L2051.2,726.1 L2051.4,724.6 L2051.5,723.1 L2051.7,721.6 L2051.9,720.1 L2052.0,718.6 L2052.2,717.2 L2052.4,715.7 L2052.5,714.2 L2052.7,712.7 L2052.9,711.2 L2053.0,709.7 L2053.2,708.2 L2053.3,706.7 L2053.5,705.2 L2053.7,703.7 L2053.8,702.2 L2054.0,700.8 L2054.1,699.3 L2054.3,697.8 L2054.5,696.3 L2054.6,694.8 L2054.8,693.3 L2055.0,691.8 L2055.1,690.3 L2055.3,688.8 L2055.4,687.3 L2055.6,685.8 L2055.8,684.3 L2055.9,682.8 L2056.1,681.3 L2056.2,679.9 L2056.4,678.4 L2056.6,676.9 L2056.7,675.4 L2056.9,673.9 L2057.0,672.4 L2057.2,670.9 L2057.3,669.4 L2057.5,667.9 L2057.7,666.4 L2057.8,664.9 L2058.0,663.4 L2058.1,661.9 L2058.3,660.4 L2058.4,658.9 L2058.6,657.4 L2058.7,656.0 L2058.9,654.5 L2059.1,653.0 L2059.2,651.5 L2059.4,650.0 L2059.5,648.5 L2059.7,647.0 L2059.8,645.5 L2060.0,644.0 L2060.1,642.5 L2060.3,641.0 L2060.4,639.5 L2060.6,638.0 L2060.8,636.5 L2060.9,635.0 L2061.1,633.5 L2061.2,632.0 L2061.4,630.5 L2061.5,629.0 L2061.7,627.5 L2061.8,626.0 L2062.0,624.5 L2062.1,623.1 L2062.3,621.6 L2062.5,620.1 L2062.6,618.6 L2062.8,617.1 L2062.9,615.6 L2063.1,614.1 L2063.2,612.6 L2063.4,611.1 L2063.6,609.6 L2063.7,608.1 L2063.9,606.6 L2064.0,605.1 L2064.2,603.6 L2064.4,602.1 L2064.5,600.6 L2064.7,599.1 L2064.9,597.6 L2065.0,596.1 L2065.2,594.7 L2065.4,593.2 L2065.5,591.7 L2065.7,590.2 L2065.9,588.7 L2066.0,587.2 L2066.2,585.7 L2066.4,584.2 L2066.5,582.7 L2066.7,581.2 L2066.9,579.7 L2067.1,578.2 L2067.2,576.7 L2067.4,575.3 L2067.6,573.8 L2067.8,572.3 L2067.9,570.8 L2068.1,569.3 L2068.3,567.8 L2068.5,566.3 L2068.7,564.8 L2068.9,563.3 L2069.1,561.9 L2069.2,560.4 L2069.4,558.9 L2069.6,557.4 L2069.8,555.9 L2070.0,554.4 L2070.2,552.9 L2070.4,551.5 L2070.6,550.0 L2070.8,548.5 L2071.0,547.0 L2071.2,545.5 L2071.4,544.0 L2071.6,542.6 L2071.8,541.1 L2072.0,539.6 L2072.3,538.1 L2072.5,536.6 L2072.7,535.1 L2072.9,533.7 L2073.1,532.2 L2073.3,530.7 L2073.6,529.2 L2073.8,527.8 L2074.0,526.3 L2074.2,524.8 L2074.5,523.3 L2074.7,521.8 L2074.9,520.4 L2075.2,518.9 L2075.4,517.4 L2075.6,516.0 L2075.9,514.5 L2076.1,513.0 L2076.4,511.5 L2076.6,510.1 L2076.9,508.6 L2077.1,507.1 L2077.4,505.7 L2077.6,504.2 L2077.9,502.7 L2078.2,501.2 L2078.4,499.8 L2078.7,498.3 L2078.9,496.8 L2079.2,495.4 L2079.5,493.9 L2079.8,492.4 L2080.0,491.0 L2080.3,489.5 L2080.6,488.0 L2080.9,486.6 L2081.1,485.1 L2081.4,483.6 L2081.7,482.2 L2082.0,480.7 L2082.3,479.2 L2082.6,477.8 L2082.9,476.3 L2083.2,474.8 L2083.5,473.4 L2083.8,471.9 L2084.1,470.4 L2084.4,469.0 L2084.7,467.5 L2085.0,466.0 L2085.3,464.6 L2085.6,463.1 L2085.9,461.6 L2086.2,460.1 L2086.5,458.7 L2086.8,457.2 L2087.2,455.7 L2087.5,454.2 L2087.8,452.7 L2088.1,451.3 L2088.4,449.8 L2088.8,448.3 L2089.1,446.8 L2089.4,445.3 L2089.7,443.9 L2090.1,442.4 L2090.4,440.9 L2090.7,439.4 L2091.1,437.9 L2091.4,436.4 L2091.7,434.9 L2092.1,433.4 L2092.4,431.9 L2092.8,430.4 L2093.1,428.9 L2093.4,427.4 L2093.8,425.9 L2094.1,424.4 L2094.5,422.9 L2094.9,421.4 L2095.3,419.9 L2095.7,418.5 L2096.1,417.0 L2096.5,415.6 L2097.0,414.2 L2097.6,412.8 L2098.1,411.5 L2098.7,410.2 L2099.4,408.9 L2100.1,407.7 L2100.9,406.5 L2101.7,405.4 L2102.6,404.3 L2103.6,403.3 L2104.6,402.3 L2105.7,401.5 L2106.9,400.9 L2108.2,400.8 L2109.4,401.1 L2110.6,401.8 L2111.6,402.7 L2112.5,403.8 L2113.2,405.1 L2113.9,406.5 L2114.5,408.1 L2115.0,409.7 L2115.5,411.4 L2116.0,413.1 L2116.4,414.8 L2116.8,416.4 L2117.3,417.9 L2117.7,419.4 L2118.1,420.8 L2118.5,422.2 L2118.9,423.6 L2119.3,425.0 L2119.7,426.3 L2120.1,427.7 L2120.5,429.1 L2120.9,430.5 L2121.2,431.9 L2121.6,433.3 L2121.9,434.7 L2122.3,436.1 L2122.6,437.6 L2122.9,439.0 L2123.2,440.5 L2123.5,442.0 L2123.8,443.4 L2124.1,444.9 L2124.4,446.4 L2124.7,447.9 L2125.0,449.3 L2125.2,450.8 L2125.5,452.3 L2125.8,453.8 L2126.1,455.3 L2126.3,456.7 L2126.6,458.2 L2126.8,459.7 L2127.1,461.2 L2127.4,462.7 L2127.6,464.2 L2127.9,465.6 L2128.1,467.1 L2128.3,468.6 L2128.6,470.1 L2128.8,471.6 L2129.1,473.1 L2129.3,474.5 L2129.5,476.0 L2129.8,477.5 L2130.0,479.0 L2130.2,480.5 L2130.4,482.0 L2130.7,483.5 L2130.9,484.9 L2131.1,486.4 L2131.3,487.9 L2131.5,489.4 L2131.7,490.9 L2132.0,492.4 L2132.2,493.9 L2132.4,495.4 L2132.6,496.8 L2132.8,498.3 L2133.0,499.8 L2133.2,501.3 L2133.4,502.8 L2133.6,504.3 L2133.8,505.8 L2134.0,507.3 L2134.1,508.8 L2134.3,510.2 L2134.5,511.7 L2134.7,513.2 L2134.9,514.7 L2135.1,516.2 L2135.3,517.7 L2135.4,519.2 L2135.6,520.7 L2135.8,522.2 L2136.0,523.7 L2136.2,525.1 L2136.3,526.6 L2136.5,528.1 L2136.7,529.6 L2136.9,531.1 L2137.0,532.6 L2137.2,534.1 L2137.4,535.6 L2137.6,537.1 L2137.7,538.6 L2137.9,540.1 L2138.1,541.5 L2138.2,543.0 L2138.4,544.5 L2138.6,546.0 L2138.7,547.5 L2138.9,549.0 L2139.1,550.5 L2139.2,552.0 L2139.4,553.5 L2139.6,555.0 L2139.7,556.5 L2139.9,558.0 L2140.1,559.4 L2140.2,560.9 L2140.4,562.4 L2140.6,563.9 L2140.7,565.4 L2140.9,566.9 L2141.1,568.4 L2141.2,569.9 L2141.4,571.4 L2141.6,572.9 L2141.7,574.4 L2141.9,575.9 L2142.0,577.3 L2142.2,578.8 L2142.4,580.3 L2142.5,581.8 L2142.7,583.3 L2142.9,584.8 L2143.0,586.3 L2143.2,587.8 L2143.4,589.3 L2143.5,590.8 L2143.7,592.3 L2143.9,593.7 L2144.0,595.2 L2144.2,596.7 L2144.4,598.2 L2144.5,599.7 L2144.7,601.2 L2144.9,602.7 L2145.0,604.2 L2145.2,605.7 L2145.4,607.2 L2145.5,608.7 L2145.7,610.2 L2145.8,611.6 L2146.0,613.1 L2146.2,614.6 L2146.3,616.1 L2146.5,617.6 L2146.7,619.1 L2146.8,620.6 L2147.0,622.1 L2147.2,623.6 L2147.3,625.1 L2147.5,626.6 L2147.7,628.0 L2147.8,629.5 L2148.0,631.0 L2148.1,632.5 L2148.3,634.0 L2148.5,635.5 L2148.6,637.0 L2148.8,638.5 L2149.0,640.0 L2149.1,641.5 L2149.3,643.0 L2149.5,644.4 L2149.6,645.9 L2149.8,647.4 L2149.9,648.9 L2150.1,650.4 L2150.3,651.9 L2150.4,653.4 L2150.6,654.9 L2150.8,656.4 L2150.9,657.9 L2151.1,659.4 L2151.2,660.8 L2151.4,662.3 L2151.6,663.8 L2151.7,665.3 L2151.9,666.8 L2152.1,668.3 L2152.2,669.8 L2152.4,671.3 L2152.5,672.8 L2152.7,674.3 L2152.9,675.8 L2153.0,677.3 L2153.2,678.7 L2153.4,680.2 L2153.5,681.7 L2153.7,683.2 L2153.8,684.7 L2154.0,686.2 L2154.2,687.7 L2154.3,689.2 L2154.5,690.7 L2154.6,692.2 L2154.8,693.7 L2155.0,695.1 L2155.1,696.6 L2155.3,698.1 L2155.4,699.6 L2155.6,701.1 L2155.7,702.6 L2155.9,704.1 L2156.1,705.6 L2156.2,707.1 L2156.4,708.6 L2156.5,710.1 L2156.7,711.6 L2156.9,713.0 L2157.0,714.5 L2157.2,716.0 L2157.3,717.5 L2157.5,719.0 L2157.6,720.5 L2157.8,722.0 L2158.0,723.5 L2158.1,725.0 L2158.3,726.5 L2158.4,728.0 L2158.6,729.5 L2158.7,730.9 L2158.9,732.4 L2159.0,733.9 L2159.2,735.4 L2159.4,736.9 L2159.5,738.4 L2159.7,739.9 L2159.8,741.4 L2160.0,742.9 L2160.1,744.4 L2160.3,745.9 L2160.4,747.4 L2160.6,748.8 L2160.7,750.3 L2160.9,751.8 L2161.0,753.3 L2161.2,754.8 L2161.4,756.3 L2161.5,757.8 L2161.7,759.3 L2161.8,760.8 L2162.0,762.3 L2162.1,763.8 L2162.3,765.3 L2162.4,766.8 L2162.6,768.2 L2162.7,769.7 L2162.9,771.2 L2163.0,772.7 L2163.2,774.2 L2163.3,775.7 L2163.5,777.2 L2163.6,778.7 L2163.8,780.2 L2163.9,781.7 L2164.1,783.2 L2164.2,784.7 L2164.4,786.2 L2164.5,787.6 L2164.6,789.1 L2164.8,790.6 L2164.9,792.1 L2165.1,793.6 L2165.2,795.1 L2165.4,796.6 L2165.5,798.1 L2165.7,799.6 L2165.8,801.1 L2166.0,802.6 L2166.1,804.1 L2166.3,805.6 L2166.4,807.1 L2166.5,808.5 L2166.7,810.0 L2166.8,811.5 L2167.0,813.0 L2167.1,814.5 L2167.3,816.0 L2167.4,817.5 L2167.5,819.0 L2167.7,820.5 L2167.8,822.0 L2168.0,823.5 L2168.1,825.0 L2168.2,826.5 L2168.4,828.0 L2168.5,829.5 L2168.7,830.9 L2168.8,832.4 L2168.9,833.9 L2169.1,835.4 L2169.2,836.9 L2169.4,838.4 L2169.5,839.9 L2169.6,841.4 L2169.8,842.9 L2169.9,844.4 L2170.0,845.9 L2170.2,847.4 L2170.3,848.9 L2170.4,850.4 L2170.6,851.9 L2170.7,853.4 L2170.9,854.9 L2171.0,856.3 L2171.1,857.8 L2171.3,859.3 L2171.4,860.8 L2171.5,862.3 L2171.7,863.8 L2171.8,865.3 L2171.9,866.8 L2172.1,868.3 L2172.2,869.8 L2172.3,871.3 L2172.4,872.8 L2172.6,874.3 L2172.7,875.8 L2172.8,877.3 L2173.0,878.8 L2173.1,880.3 L2173.2,881.8 L2173.3,883.3 L2173.5,884.7 L2173.6,886.2 L2173.7,887.7 L2173.9,889.2 L2174.0,890.7 L2174.1,892.2 L2174.2,893.7 L2174.4,895.2 L2174.5,896.7 L2174.6,898.2 L2174.7,899.7 L2174.9,901.2 L2175.0,902.7 L2175.1,904.2 L2175.2,905.7 L2175.3,907.2 L2175.5,908.7 L2175.6,910.2 L2175.7,911.7 L2175.8,913.2 L2176.0,914.7 L2176.1,916.2 L2176.2,917.7 L2176.3,919.2 L2176.4,920.7 L2176.6,922.2 L2176.7,923.6 L2176.8,925.1 L2176.9,926.6 L2177.0,928.1 L2177.1,929.6 L2177.3,931.1 L2177.4,932.6 L2177.5,934.1 L2177.6,935.6 L2177.7,937.1 L2177.8,938.6 L2178.0,940.1 L2178.1,941.6 L2178.2,943.1 L2178.3,944.6 L2178.4,946.1 L2178.5,947.6 L2178.7,949.1 L2178.8,950.6 L2178.9,952.1 L2179.0,953.6 L2179.1,955.1 L2179.2,956.6 L2179.3,958.1 L2179.5,959.6 L2179.6,961.1 L2179.7,962.6 L2179.8,964.1 L2179.9,965.6 L2180.0,967.1 L2180.1,968.6 L2180.2,970.1 L2180.4,971.6 L2180.5,973.1 L2180.6,974.5 L2180.7,976.0 L2180.8,977.5 L2180.9,979.0 L2181.0,980.5 L2181.2,982.0 L2181.3,983.5 L2181.4,985.0 L2181.5,986.5 L2181.6,988.0 L2181.7,989.5 L2181.8,991.0 L2181.9,992.5 L2182.1,994.0 L2182.2,995.5 L2182.3,997.0 L2182.4,998.5 L2182.5,1000.0 L2182.6,1001.5 L2182.7,1003.0 L2182.8,1004.5 L2183.0,1006.0 L2183.1,1007.5 L2183.2,1009.0 L2183.3,1010.5 L2183.4,1012.0 L2183.5,1013.5 L2183.6,1015.0 L2183.8,1016.5 L2183.9,1018.0 L2184.0,1019.5 L2184.1,1021.0 L2184.2,1022.5 L2184.3,1024.0 L2184.4,1025.4 L2184.6,1026.9 L2184.7,1028.4 L2184.8,1029.9 L2184.9,1031.4 L2185.0,1032.9 L2185.1,1034.4 L2185.3,1035.9 L2185.4,1037.4 L2185.5,1038.9 L2185.6,1040.4 L2185.7,1041.9 L2185.8,1043.4 L2186.0,1044.9 L2186.1,1046.4 L2186.2,1047.9 L2186.3,1049.4 L2186.4,1050.9 L2186.6,1052.4 L2186.7,1053.9 L2186.8,1055.4 L2186.9,1056.9 L2187.0,1058.4 L2187.2,1059.9 L2187.3,1061.4 L2187.4,1062.8 L2187.5,1064.3 L2187.6,1065.8 L2187.8,1067.3 L2187.9,1068.8 L2188.0,1070.3 L2188.1,1071.8 L2188.3,1073.3 L2188.4,1074.8 L2188.5,1076.3 L2188.6,1077.8 L2188.8,1079.3 L2188.9,1080.8 L2189.0,1082.3 L2189.1,1083.8 L2189.3,1085.3 L2189.4,1086.8 L2189.5,1088.3 L2189.6,1089.8 L2189.8,1091.2 L2189.9,1092.7 L2190.0,1094.2 L2190.2,1095.7 L2190.3,1097.2 L2190.4,1098.7 L2190.6,1100.2 L2190.7,1101.7 L2190.8,1103.2 L2191.0,1104.7 L2191.1,1106.2 L2191.2,1107.7 L2191.4,1109.2 L2191.5,1110.7 L2191.6,1112.1 L2191.8,1113.6 L2191.9,1115.1 L2192.0,1116.6 L2192.2,1118.1 L2192.3,1119.6 L2192.5,1121.1 L2192.6,1122.6 L2192.7,1124.1 L2192.9,1125.6 L2193.0,1127.1 L2193.2,1128.6 L2193.3,1130.0 L2193.5,1131.5 L2193.6,1133.0 L2193.7,1134.5 L2193.9,1136.0 L2194.0,1137.5 L2194.2,1139.0 L2194.3,1140.5 L2194.5,1142.0 L2194.6,1143.5 L2194.8,1145.0 L2194.9,1146.4 L2195.1,1147.9 L2195.2,1149.4 L2195.4,1150.9 L2195.5,1152.4 L2195.7,1153.9 L2195.8,1155.4 L2196.0,1156.9 L2196.2,1158.4 L2196.3,1159.8 L2196.5,1161.3 L2196.6,1162.8 L2196.8,1164.3 L2196.9,1165.8 L2197.1,1167.3 L2197.3,1168.8 L2197.4,1170.3 L2197.6,1171.7 L2197.8,1173.2 L2197.9,1174.7 L2198.1,1176.2 L2198.3,1177.7 L2198.4,1179.2 L2198.6,1180.7 L2198.8,1182.2 L2198.9,1183.6 L2199.1,1185.1 L2199.3,1186.6 L2199.4,1188.1 L2199.6,1189.6 L2199.8,1191.1 L2200.0,1192.6 L2200.1,1194.0 L2200.3,1195.5 L2200.5,1197.0 L2200.7,1198.5 L2200.9,1200.0 L2201.0,1201.5 L2201.2,1202.9 L2201.4,1204.4 L2201.6,1205.9 L2201.8,1207.4 L2202.0,1208.9 L2202.2,1210.4 L2202.3,1211.9 L2202.5,1213.3 L2202.7,1214.8 L2202.9,1216.3 L2203.1,1217.8 L2203.3,1219.3 L2203.5,1220.7 L2203.7,1222.2 L2203.9,1223.7 L2204.1,1225.2 L2204.3,1226.7 L2204.6,1228.2 L2204.8,1229.6 L2205.0,1231.1 L2205.2,1232.6 L2205.4,1234.1 L2205.7,1235.6 L2205.9,1237.1 L2206.1,1238.6 L2206.4,1240.0 L2206.6,1241.5 L2206.9,1243.0 L2207.1,1244.5 L2207.4,1246.0 L2207.7,1247.5 L2207.9,1249.0 L2208.2,1250.4 L2208.5,1251.9 L2208.8,1253.4 L2209.0,1254.9 L2209.3,1256.4 L2209.6,1257.9 L2209.9,1259.4 L2210.2,1260.9 L2210.6,1262.4 L2210.9,1263.9 L2211.2,1265.4 L2211.5,1266.9 L2211.9,1268.3 L2212.2,1269.8 L2212.6,1271.3 L2212.9,1272.8 L2213.3,1274.3 L2213.7,1275.8 L2214.1,1277.3 L2214.5,1278.8 L2214.9,1280.3 L2215.3,1281.7 L2215.8,1283.2 L2216.3,1284.6 L2216.8,1286.0 L2217.3,1287.4 L2217.9,1288.8 L2218.5,1290.2 L2219.1,1291.5 L2219.8,1292.8 L2220.5,1294.0 L2221.3,1295.2 L2222.1,1296.4 L2222.9,1297.5 L2223.8,1298.6 L2224.8,1299.7 L2225.8,1300.7 L2226.9,1301.6 L2228.0,1302.5 L2229.2,1303.2 L2230.4,1303.8 L2231.7,1304.1 L2233.0,1304.2 L2234.4,1303.9 L2235.8,1303.3 L2237.2,1302.4 L2238.6,1301.3 L2239.9,1300.1 L2241.3,1298.8 L2242.6,1297.7 L2243.9,1296.7 L2245.2,1296.0 L2246.6,1295.5 L2248.1,1295.3 L2249.7,1295.4 L2251.2,1295.6 L2252.6,1295.9 L2254.0,1296.4 L2255.3,1297.0 L2256.5,1297.6 L2257.6,1298.3 L2258.7,1299.2 L2259.7,1300.1 L2260.7,1301.1 L2261.6,1302.1 L2262.4,1303.2 L2263.2,1304.4 L2263.9,1305.7 L2264.6,1306.9 L2265.3,1308.3 L2265.9,1309.7 L2266.5,1311.1 L2267.0,1312.5 L2267.6,1313.9 L2268.1,1315.4 L2268.6,1316.9 L2269.0,1318.4 L2269.5,1319.9 L2269.9,1321.4 L2270.4,1322.9 L2270.8,1324.4 L2271.2,1325.9 L2271.6,1327.4 L2272.0,1328.9 L2272.4,1330.4 L2272.8,1331.9 L2273.2,1333.4 L2273.5,1334.8 L2273.9,1336.3 L2274.3,1337.8 L2274.6,1339.3 L2275.0,1340.8 L2275.3,1342.2 L2275.6,1343.7 L2275.9,1345.2 L2276.2,1346.7 L2276.6,1348.1 L2276.9,1349.6 L2277.2,1351.1 L2277.5,1352.5 L2277.7,1354.0 L2278.0,1355.5 L2278.3,1356.9 L2278.6,1358.4 L2278.9,1359.8 L2279.1,1361.3 L2279.4,1362.8 L2279.7,1364.2 L2279.9,1365.7 L2280.2,1367.2 L2280.4,1368.6 L2280.7,1370.1 L2280.9,1371.5 L2281.2,1373.0 L2281.4,1374.5 L2281.7,1375.9 L2281.9,1377.4 L2282.2,1378.8 L2282.4,1380.3 L2282.7,1381.7 L2282.9,1383.2 L2283.2,1384.7 L2283.4,1386.1 L2283.7,1387.6 L2283.9,1389.0 L2284.1,1390.5 L2284.4,1392.0 L2284.6,1393.4 L2284.9,1394.9 L2285.1,1396.4 L2285.4,1397.8 L2285.7,1399.3 L2285.9,1400.8 L2286.2,1402.2 L2286.5,1403.7 L2286.7,1405.2 L2287.0,1406.6 L2287.3,1408.1 L2287.5,1409.6 L2287.8,1411.1 L2288.1,1412.5 L2288.4,1414.0 L2288.7,1415.5 L2289.0,1417.0 L2289.3,1418.5 L2289.6,1419.9 L2289.8,1421.4 L2290.1,1422.9 L2290.4,1424.4 L2290.7,1425.9 L2291.0,1427.3 L2291.3,1428.8 L2291.6,1430.3 L2291.9,1431.8 L2292.2,1433.3 L2292.5,1434.8 L2292.8,1436.2 L2293.1,1437.7 L2293.4,1439.2 L2293.7,1440.7 L2294.0,1442.2 L2294.3,1443.7 L2294.6,1445.2 L2294.9,1446.6 L2295.2,1448.1 L2295.4,1449.6 L2295.7,1451.1 L2296.0,1452.6 L2296.3,1454.1 L2296.6,1455.5 L2296.9,1457.0 L2297.1,1458.5 L2297.4,1460.0 L2297.7,1461.5 L2297.9,1463.0 L2298.2,1464.4 L2298.5,1465.9 L2298.8,1467.4 L2299.0,1468.9 L2299.3,1470.3 L2299.6,1471.8 L2299.9,1473.3 L2300.3,1474.7 L2300.6,1476.2 L2301.0,1477.6 L2301.4,1479.0 L2301.8,1480.5 L2302.2,1481.9 L2302.6,1483.3 L2303.1,1484.7 L2303.6,1486.1 L2304.2,1487.5 L2304.7,1488.9 L2305.3,1490.3 L2306.0,1491.6 L2306.6,1493.0 L2307.4,1494.3 L2308.1,1495.7 L2308.9,1496.9 L2309.8,1498.1 L2310.9,1498.9 L2312.0,1499.4 L2313.3,1499.5 L2314.8,1499.1 L2316.4,1498.6 L2318.1,1498.0 L2319.9,1497.6 L2321.6,1497.5 L2323.0,1497.7 L2324.1,1498.2 L2325.0,1499.0 L2325.5,1500.0 L2325.9,1501.3 L2326.2,1502.6 L2326.3,1504.1 L2326.4,1505.6 L2326.5,1507.1 L2326.6,1508.6 L2326.7,1510.1 L2326.8,1511.6 L2326.9,1513.1 L2327.0,1514.6 L2327.1,1516.1 L2327.2,1517.6 L2327.3,1519.2 L2327.4,1520.7 L2327.4,1522.2 L2327.5,1523.7 L2327.6,1525.2 L2327.7,1526.7 L2327.8,1528.2 L2327.9,1529.7 L2328.0,1531.2 L2328.1,1532.7 L2328.1,1534.2 L2328.2,1535.7 L2328.3,1537.2 L2328.4,1538.7 L2328.5,1540.2 L2328.6,1541.7 L2328.6,1543.2 L2328.7,1544.8 L2328.8,1546.3 L2328.9,1547.8 L2329.0,1549.3 L2329.0,1550.8 L2329.1,1552.3 L2329.2,1553.8 L2329.3,1555.3 L2329.3,1556.8 L2329.4,1558.3 L2329.5,1559.8 L2329.5,1561.3 L2329.6,1562.8 L2329.7,1564.3 L2329.8,1565.8 L2329.8,1567.3 L2329.9,1568.8 L2330.0,1570.3 L2330.0,1571.8 L2330.1,1573.3 L2330.2,1574.8 L2330.2,1576.3 L2330.3,1577.8 L2330.4,1579.4 L2330.4,1580.9 L2330.5,1582.4 L2330.5,1583.9 L2330.6,1585.4 L2330.7,1586.9 L2330.7,1588.4 L2330.8,1589.9 L2330.8,1591.4 L2330.9,1592.9 L2331.0,1594.4 L2331.0,1595.9 L2331.1,1597.4 L2331.1,1598.9 L2331.2,1600.4 L2331.2,1601.9 L2331.3,1603.4 L2331.3,1604.9 L2331.4,1606.4 L2331.4,1607.9 L2331.5,1609.4 L2331.5,1610.9 L2331.6,1612.4 L2331.6,1613.9 L2331.7,1615.4 L2331.7,1616.9 L2331.8,1618.4 L2331.8,1619.9 L2331.9,1621.4 L2331.9,1622.9 L2332.0,1624.4 L2332.0,1625.9 L2332.1,1627.4 L2332.1,1628.9 L2332.2,1630.4 L2332.2,1632.0 L2332.2,1633.5 L2332.3,1635.0 L2332.3,1636.5 L2332.4,1638.0 L2332.4,1639.5 L2332.4,1641.0 L2332.5,1642.5 L2332.5,1644.0 L2332.6,1645.5 L2332.6,1647.0 L2332.6,1648.5 L2332.7,1650.0 L2332.7,1651.5 L2332.7,1653.0 L2332.8,1654.5 L2332.8,1656.0 L2332.9,1657.5 L2332.9,1659.0 L2332.9,1660.5 L2333.0,1662.0 L2333.0,1663.5 L2333.0,1665.0 L2333.0,1666.5 L2333.1,1668.0 L2333.1,1669.5 L2333.1,1671.0 L2333.2,1672.5 L2333.2,1674.0 L2333.2,1675.5 L2333.3,1677.0 L2333.3,1678.5 L2333.3,1680.0 L2333.3,1681.5 L2333.4,1683.0 L2333.4,1684.5 L2333.4,1686.0 L2333.4,1687.5 L2333.5,1689.0 L2333.5,1690.5 L2333.5,1692.0 L2333.5,1693.5 L2333.6,1695.0 L2333.6,1696.5 L2333.6,1698.0 L2333.6,1699.5 L2333.7,1701.0 L2333.7,1702.5 L2333.7,1704.0 L2333.7,1705.5 L2333.8,1707.0 L2333.8,1708.5 L2333.8,1710.0 L2333.8,1711.5 L2333.8,1713.0 L2333.9,1714.5 L2333.9,1716.0 L2333.9,1717.5 L2333.9,1719.0 L2333.9,1720.5 L2333.9,1722.0 L2334.0,1723.5 L2334.0,1725.0 L2334.0,1726.5 L2334.0,1728.0 L2334.0,1729.5 L2334.0,1731.0 L2334.1,1732.5 L2334.1,1734.0 L2334.1,1735.5 L2334.1,1737.0 L2334.1,1738.5 L2334.1,1740.0 L2334.2,1741.5 L2334.2,1743.0 L2334.2,1744.5 L2334.2,1746.0 L2334.2,1747.5 L2334.2,1749.0 L2334.2,1750.5 L2334.2,1752.0 L2334.3,1753.5 L2334.3,1755.0 L2334.3,1756.5 L2334.3,1758.0 L2334.3,1759.5 L2334.3,1761.0 L2334.3,1762.5 L2334.3,1764.0 L2334.3,1765.5 L2334.4,1767.0 L2334.4,1768.5 L2334.4,1770.0 L2334.4,1771.5 L2334.4,1773.0 L2334.4,1774.5 L2334.4,1776.0 L2334.4,1777.5 L2334.4,1779.0 L2334.4,1780.5 L2334.4,1782.0 L2334.5,1783.5 L2334.5,1785.0 L2334.5,1786.5 L2334.5,1788.0 L2334.5,1789.5 L2334.5,1791.0 L2334.5,1792.5 L2334.5,1794.0 L2334.5,1795.5 L2334.5,1797.0 L2334.5,1798.5 L2334.5,1800.0 L2334.5,1801.5 L2334.5,1803.0 L2334.6,1804.4 L2334.6,1805.9 L2334.6,1807.4 L2334.6,1808.9 L2334.6,1810.4 L2334.6,1811.9 L2334.6,1813.4 L2334.6,1814.9 L2334.6,1816.4 L2334.6,1817.9 L2334.6,1819.4 L2334.6,1820.9 L2334.6,1822.4 L2334.6,1823.9 L2334.6,1825.4 L2334.6,1826.9 L2334.6,1828.4 L2334.6,1829.9 L2334.6,1831.4 L2334.7,1832.9 L2334.7,1834.4 L2334.7,1835.9 L2334.7,1837.4 L2334.7,1838.9 L2334.7,1840.4 L2334.7,1841.9 L2334.7,1843.4 L2334.7,1844.9 L2334.7,1846.4 L2334.7,1847.9 L2334.7,1849.4 L2334.7,1850.9 L2334.7,1852.4 L2334.7,1853.9 L2334.7,1855.4 L2334.7,1856.9 L2334.7,1858.4 L2334.7,1859.9 L2334.7,1861.4 L2334.7,1862.9 L2334.7,1864.4 L2334.7,1865.9 L2334.8,1867.4 L2334.8,1868.9 L2334.8,1870.4 L2334.8,1871.9 L2334.8,1873.4 L2334.8,1874.9 L2334.8,1876.4 L2334.8,1877.9 L2334.8,1879.4 L2334.8,1880.9 L2334.8,1882.4 L2334.8,1883.9 L2334.8,1885.4 L2334.8,1886.9 L2334.8,1888.4 L2334.8,1889.9 L2334.8,1891.4 L2334.8,1892.9 L2334.8,1894.4 L2334.8,1895.9 L2334.9,1897.4 L2334.9,1898.9 L2334.9,1900.4 L2334.9,1901.9 L2334.9,1903.4 L2334.9,1904.9 L2334.9,1906.4 L2334.9,1907.9 L2334.9,1909.4 L2334.9,1910.9 L2334.9,1912.4 L2334.9,1913.9 L2334.9,1915.4 L2334.9,1916.9 L2334.9,1918.4 L2335.0,1919.9 L2335.0,1921.4 L2335.0,1922.9 L2335.0,1924.4 L2335.0,1925.9 L2335.0,1927.4 L2335.0,1928.9 L2335.0,1930.4 L2335.0,1931.9 L2335.0,1933.4 L2335.0,1934.9 L2335.0,1936.4 L2335.1,1937.9 L2335.1,1939.4 L2335.1,1940.9 L2335.1,1942.4 L2335.1,1943.9 L2335.1,1945.4 L2335.1,1946.9 L2335.1,1948.4 L2335.1,1949.9 L2335.2,1951.4 L2335.2,1952.9 L2335.2,1954.4 L2335.2,1955.9 L2335.2,1957.4 L2335.2,1958.9 L2335.2,1960.4 L2335.2,1961.9 L2335.3,1963.4 L2335.3,1964.9 L2335.3,1966.4 L2335.3,1967.9 L2335.3,1969.4 L2335.3,1970.9 L2335.4,1972.4 L2335.4,1973.9 L2335.4,1975.4 L2335.4,1976.9 L2335.4,1978.4 L2335.4,1979.9 L2335.4,1981.4 L2335.5,1982.9 L2335.5,1984.4 L2335.5,1985.9 L2335.5,1987.4 L2335.5,1988.9 L2335.6,1990.4 L2335.6,1991.9 L2335.6,1993.4 L2335.6,1994.9 L2335.6,1996.4 L2335.7,1997.9 L2335.7,1999.4 L2335.7,2000.9 L2335.7,2002.4 L2335.7,2003.9 L2335.8,2005.4 L2335.8,2006.9 L2335.8,2008.4 L2335.8,2009.9 L2335.9,2011.4 L2335.9,2012.9 L2335.9,2014.4 L2335.9,2015.9 L2336.0,2017.4 L2336.0,2018.9 L2336.0,2020.4 L2336.0,2021.9 L2336.1,2023.4 L2336.1,2024.9 L2336.1,2026.4 L2336.2,2028.0 L2336.2,2029.5 L2336.2,2031.0 L2336.2,2032.5 L2336.3,2034.0 L2336.3,2035.5 L2336.3,2037.0 L2336.4,2038.5 L2336.4,2040.0 L2336.4,2041.5 L2336.5,2043.0 L2336.5,2044.5 L2336.5,2046.0 L2336.6,2047.5 L2336.6,2049.0 L2336.6,2050.5 L2336.7,2052.0 L2336.7,2053.5 L2336.7,2055.0 L2336.8,2056.5 L2336.8,2058.0 L2336.9,2059.5 L2336.9,2061.0 L2336.9,2062.5 L2337.0,2064.0 L2337.0,2065.5 L2337.0,2067.0 L2337.1,2068.5 L2337.1,2070.0 L2337.2,2071.5 L2337.0,2073.0 L2337.1,2071.5 L2337.1,2070.0 L2337.1,2068.5 L2337.1,2067.0 L2337.2,2065.5 L2337.2,2064.0 L2337.2,2062.5 L2337.2,2061.0 L2337.2,2059.5 L2337.2,2058.0 L2337.2,2056.5 L2337.2,2055.0 L2337.2,2053.5 L2337.3,2052.0 L2337.3,2050.5 L2337.3,2049.0 L2337.3,2047.5 L2337.3,2046.0 L2337.3,2044.5 L2337.3,2043.0 L2337.3,2041.5 L2337.3,2039.9 L2337.3,2038.4 L2337.4,2036.9 L2337.4,2035.4 L2337.4,2033.9 L2337.4,2032.4 L2337.4,2030.9 L2337.4,2029.4 L2337.4,2027.9 L2337.4,2026.4 L2337.4,2024.9 L2337.5,2023.4 L2337.5,2021.9 L2337.5,2020.4 L2337.5,2018.9 L2337.5,2017.4 L2337.5,2015.9 L2337.5,2014.4 L2337.5,2012.9 L2337.5,2011.4 L2337.5,2009.9 L2337.6,2008.4 L2337.6,2006.9 L2337.6,2005.4 L2337.6,2003.9 L2337.6,2002.4 L2337.6,2000.9 L2337.6,1999.4 L2337.6,1997.9 L2337.6,1996.4 L2337.6,1994.9 L2337.7,1993.4 L2337.7,1991.9 L2337.7,1990.4 L2337.7,1988.9 L2337.7,1987.4 L2337.7,1985.9 L2337.7,1984.4 L2337.7,1982.9 L2337.7,1981.4 L2337.7,1979.9 L2337.8,1978.4 L2337.8,1976.9 L2337.8,1975.4 L2337.8,1973.9 L2337.8,1972.4 L2337.8,1970.9 L2337.8,1969.4 L2337.8,1967.9 L2337.8,1966.4 L2337.8,1964.9 L2337.8,1963.3 L2337.9,1961.8 L2337.9,1960.3 L2337.9,1958.8 L2337.9,1957.3 L2337.9,1955.8 L2337.9,1954.3 L2337.9,1952.8 L2337.9,1951.3 L2337.9,1949.8 L2337.9,1948.3 L2337.9,1946.8 L2338.0,1945.3 L2338.0,1943.8 L2338.0,1942.3 L2338.0,1940.8 L2338.0,1939.3 L2338.0,1937.8 L2338.0,1936.3 L2338.0,1934.8 L2338.0,1933.3 L2338.0,1931.8 L2338.0,1930.3 L2338.1,1928.8 L2338.1,1927.3 L2338.1,1925.8 L2338.1,1924.3 L2338.1,1922.8 L2338.1,1921.3 L2338.1,1919.8 L2338.1,1918.3 L2338.1,1916.8 L2338.1,1915.3 L2338.1,1913.8 L2338.2,1912.3 L2338.2,1910.8 L2338.2,1909.3 L2338.2,1907.8 L2338.2,1906.3 L2338.2,1904.8 L2338.2,1903.3 L2338.2,1901.8 L2338.2,1900.3 L2338.2,1898.8 L2338.2,1897.3 L2338.2,1895.8 L2338.3,1894.3 L2338.3,1892.8 L2338.3,1891.3 L2338.3,1889.8 L2338.3,1888.2 L2338.3,1886.7 L2338.3,1885.2 L2338.3,1883.7 L2338.3,1882.2 L2338.3,1880.7 L2338.3,1879.2 L2338.3,1877.7 L2338.4,1876.2 L2338.4,1874.7 L2338.4,1873.2 L2338.4,1871.7 L2338.4,1870.2 L2338.4,1868.7 L2338.4,1867.2 L2338.4,1865.7 L2338.4,1864.2 L2338.4,1862.7 L2338.4,1861.2 L2338.4,1859.7 L2338.5,1858.2 L2338.5,1856.7 L2338.5,1855.2 L2338.5,1853.7 L2338.5,1852.2 L2338.5,1850.7 L2338.5,1849.2 L2338.5,1847.7 L2338.5,1846.2 L2338.5,1844.7 L2338.5,1843.2 L2338.5,1841.7 L2338.5,1840.2 L2338.6,1838.7 L2338.6,1837.2 L2338.6,1835.7 L2338.6,1834.2 L2338.6,1832.7 L2338.6,1831.2 L2338.6,1829.7 L2338.6,1828.2 L2338.6,1826.7 L2338.6,1825.2 L2338.6,1823.7 L2338.6,1822.2 L2338.6,1820.7 L2338.7,1819.2 L2338.7,1817.7 L2338.7,1816.2 L2338.7,1814.6 L2338.7,1813.1 L2338.7,1811.6 L2338.7,1810.1 L2338.7,1808.6 L2338.7,1807.1 L2338.7,1805.6 L2338.7,1804.1 L2338.7,1802.6 L2338.7,1801.1 L2338.8,1799.6 L2338.8,1798.1 L2338.8,1796.6 L2338.8,1795.1 L2338.8,1793.6 L2338.8,1792.1 L2338.8,1790.6 L2338.8,1789.1 L2338.8,1787.6 L2338.8,1786.1 L2338.8,1784.6 L2338.8,1783.1 L2338.8,1781.6 L2338.9,1780.1 L2338.9,1778.6 L2338.9,1777.1 L2338.9,1775.6 L2338.9,1774.1 L2338.9,1772.6 L2338.9,1771.1 L2338.9,1769.6 L2338.9,1768.1 L2338.9,1766.6 L2338.9,1765.1 L2338.9,1763.6 L2338.9,1762.1 L2338.9,1760.6 L2339.0,1759.1 L2339.0,1757.6 L2339.0,1756.1 L2339.0,1754.6 L2339.0,1753.1 L2339.0,1751.6 L2339.0,1750.1 L2339.0,1748.6 L2339.0,1747.1 L2339.0,1745.6 L2339.0,1744.1 L2339.0,1742.5 L2339.0,1741.0 L2339.0,1739.5 L2339.0,1738.0 L2339.1,1736.5 L2339.1,1735.0 L2339.1,1733.5 L2339.1,1732.0 L2339.1,1730.5 L2339.1,1729.0 L2339.1,1727.5 L2339.1,1726.0 L2339.1,1724.5 L2339.1,1723.0 L2339.1,1721.5 L2339.1,1720.0 L2339.1,1718.5 L2339.1,1717.0 L2339.2,1715.5 L2339.2,1714.0 L2339.2,1712.5 L2339.2,1711.0 L2339.2,1709.5 L2339.2,1708.0 L2339.2,1706.5 L2339.2,1705.0 L2339.2,1703.5 L2339.2,1702.0 L2339.2,1700.5 L2339.2,1699.0 L2339.2,1697.5 L2339.2,1696.0 L2339.2,1694.5 L2339.3,1693.0 L2339.3,1691.5 L2339.3,1690.0 L2339.3,1688.5 L2339.3,1687.0 L2339.3,1685.5 L2339.3,1684.0 L2339.3,1682.5 L2339.3,1681.0 L2339.3,1679.5 L2339.3,1678.0 L2339.3,1676.5 L2339.3,1675.0 L2339.3,1673.5 L2339.3,1672.0 L2339.3,1670.4 L2339.4,1668.9 L2339.4,1667.4 L2339.4,1665.9 L2339.4,1664.4 L2339.4,1662.9 L2339.4,1661.4 L2339.4,1659.9 L2339.4,1658.4 L2339.4,1656.9 L2339.4,1655.4 L2339.4,1653.9 L2339.4,1652.4 L2339.4,1650.9 L2339.4,1649.4 L2339.4,1647.9 L2339.5,1646.4 L2339.5,1644.9 L2339.5,1643.4 L2339.5,1641.9 L2339.5,1640.4 L2339.5,1638.9 L2339.5,1637.4 L2339.5,1635.9 L2339.5,1634.4 L2339.5,1632.9 L2339.5,1631.4 L2339.5,1629.9 L2339.5,1628.4 L2339.5,1626.9 L2339.5,1625.4 L2339.5,1623.9 L2339.6,1622.4 L2339.6,1620.9 L2339.6,1619.4 L2339.6,1617.9 L2339.6,1616.4 L2339.6,1614.9 L2339.6,1613.4 L2339.6,1611.9 L2339.6,1610.4 L2339.6,1608.9 L2339.6,1607.4 L2339.6,1605.9 L2339.6,1604.4 L2339.6,1602.9 L2339.6,1601.4 L2339.6,1599.8 L2339.7,1598.3 L2339.7,1596.8 L2339.7,1595.3 L2339.7,1593.8 L2339.7,1592.3 L2339.7,1590.8 L2339.7,1589.3 L2339.7,1587.8 L2339.7,1586.3 L2339.7,1584.8 L2339.7,1583.3 L2339.7,1581.8 L2339.7,1580.3 L2339.7,1578.8 L2339.7,1577.3 L2339.7,1575.8 L2339.7,1574.3 L2339.8,1572.8 L2339.8,1571.3 L2339.8,1569.8 L2339.8,1568.3 L2339.8,1566.8 L2339.8,1565.3 L2339.8,1563.8 L2339.8,1562.3 L2339.8,1560.8 L2339.8,1559.3 L2339.8,1557.8 L2339.8,1556.3 L2339.8,1554.8 L2339.8,1553.3 L2339.8,1551.8 L2339.8,1550.3 L2339.9,1548.8 L2339.9,1547.3 L2339.9,1545.8 L2339.9,1544.3 L2339.9,1542.8 L2339.9,1541.3 L2339.9,1539.8 L2339.9,1538.3 L2339.9,1536.8 L2339.9,1535.3 L2339.9,1533.8 L2339.9,1532.3 L2339.9,1530.8 L2339.9,1529.2 L2339.9,1527.7 L2339.9,1526.2 L2339.9,1524.7 L2340.0,1523.2 L2340.0,1521.7 L2340.0,1520.2 L2340.0,1518.7 L2340.0,1517.2 L2340.0,1515.7 L2340.0,1514.2 L2340.0,1512.7 L2340.0,1511.2 L2340.0,1509.7 L2340.0,1508.2 L2340.0,1506.7 L2340.0,1505.2 L2340.0,1503.7 L2340.0,1502.2 L2340.0,1500.7 L2340.0,1499.2 L2340.1,1497.7 L2340.1,1496.2 L2340.1,1494.7 L2340.1,1493.2 L2340.1,1491.7 L2340.1,1490.2 L2340.1,1488.7 L2340.1,1487.2 L2340.1,1485.7 L2340.1,1484.2 L2340.1,1482.7 L2340.1,1481.2 L2340.1,1479.7 L2340.1,1478.2 L2340.1,1476.7 L2340.1,1475.2 L2340.1,1473.7 L2340.2,1472.2 L2340.2,1470.7 L2340.2,1469.2 L2340.2,1467.7 L2340.2,1466.2 L2340.2,1464.7 L2340.2,1463.2 L2340.2,1461.7 L2340.2,1460.2 L2340.2,1458.6 L2340.2,1457.1 L2340.2,1455.6 L2340.2,1454.1 L2340.2,1452.6 L2340.2,1451.1 L2340.2,1449.6 L2340.2,1448.1 L2340.3,1446.6 L2340.3,1445.1 L2340.3,1443.6 L2340.3,1442.1 L2340.3,1440.6 L2340.3,1439.1 L2340.3,1437.6 L2340.3,1436.1 L2340.3,1434.6 L2340.3,1433.1 L2340.3,1431.6 L2340.3,1430.1 L2340.3,1428.6 L2340.3,1427.1 L2340.3,1425.6 L2340.3,1424.1 L2340.4,1422.6 L2340.4,1421.1 L2340.4,1419.6 L2340.4,1418.1 L2340.4,1416.6 L2340.4,1415.1 L2340.4,1413.6 L2340.4,1412.1 L2340.4,1410.6 L2340.4,1409.1 L2340.4,1407.6 L2340.4,1406.1 L2340.4,1404.6 L2340.4,1403.1 L2340.4,1401.6 L2340.4,1400.1 L2340.4,1398.6 L2340.5,1397.1 L2340.5,1395.6 L2340.5,1394.1 L2340.5,1392.6 L2340.5,1391.1 L2340.5,1389.5 L2340.5,1388.0 L2340.5,1386.5 L2340.5,1385.0 L2340.5,1383.5 L2340.5,1382.0 L2340.5,1380.5 L2340.5,1379.0 L2340.5,1377.5 L2340.5,1376.0 L2340.5,1374.5 L2340.6,1373.0 L2340.6,1371.5 L2340.6,1370.0 L2340.6,1368.5 L2340.6,1367.0 L2340.6,1365.5 L2340.6,1364.0 L2340.6,1362.5 L2340.6,1361.0 L2340.6,1359.5 L2340.6,1358.0 L2340.6,1356.5 L2340.6,1355.0 L2340.6,1353.5 L2340.6,1352.0 L2340.6,1350.5 L2340.6,1349.0 L2340.7,1347.5 L2340.7,1346.0 L2340.7,1344.5 L2340.7,1343.0 L2340.7,1341.5 L2340.7,1340.0 L2340.7,1338.5 L2340.7,1337.0 L2340.7,1335.5 L2340.7,1334.0 L2340.7,1332.5 L2340.7,1331.0 L2340.7,1329.5 L2340.7,1328.0 L2340.7,1326.5 L2340.7,1325.0 L2340.8,1323.5 L2340.8,1322.0 L2340.8,1320.5 L2340.8,1318.9 L2340.8,1317.4 L2340.8,1315.9 L2340.8,1314.4 L2340.8,1312.9 L2340.8,1311.4 L2340.8,1309.9 L2340.8,1308.4 L2340.8,1306.9 L2340.8,1305.4 L2340.8,1303.9 L2340.8,1302.4 L2340.9,1300.9 L2340.9,1299.4 L2340.9,1297.9 L2340.9,1296.4 L2340.9,1294.9 L2340.9,1293.4 L2340.9,1291.9 L2340.9,1290.4 L2340.9,1288.9 L2340.9,1287.4 L2340.9,1285.9 L2340.9,1284.4 L2340.9,1282.9 L2340.9,1281.4 L2340.9,1279.9 L2340.9,1278.4 L2341.0,1276.9 L2341.0,1275.4 L2341.0,1273.9 L2341.0,1272.4 L2341.0,1270.9 L2341.0,1269.4 L2341.0,1267.9 L2341.0,1266.4 L2341.0,1264.9 L2341.0,1263.4 L2341.0,1261.9 L2341.0,1260.4 L2341.0,1258.9 L2341.0,1257.4 L2341.0,1255.9 L2341.1,1254.4 L2341.1,1252.9 L2341.1,1251.4 L2341.1,1249.8 L2341.1,1248.3 L2341.1,1246.8 L2341.1,1245.3 L2341.1,1243.8 L2341.1,1242.3 L2341.1,1240.8 L2341.1,1239.3 L2341.1,1237.8 L2341.1,1236.3 L2341.1,1234.8 L2341.2,1233.3 L2341.2,1231.8 L2341.2,1230.3 L2341.2,1228.8 L2341.2,1227.3 L2341.2,1225.8 L2341.2,1224.3 L2341.2,1222.8 L2341.2,1221.3 L2341.2,1219.8 L2341.2,1218.3 L2341.2,1216.8 L2341.2,1215.3 L2341.2,1213.8 L2341.2,1212.3 L2341.3,1210.8 L2341.3,1209.3 L2341.3,1207.8 L2341.3,1206.3 L2341.3,1204.8 L2341.3,1203.3 L2341.3,1201.8 L2341.3,1200.3 L2341.3,1198.8 L2341.3,1197.3 L2341.3,1195.8 L2341.3,1194.3 L2341.3,1192.8 L2341.3,1191.3 L2341.4,1189.8 L2341.4,1188.3 L2341.4,1186.8 L2341.4,1185.3 L2341.4,1183.8 L2341.4,1182.3 L2341.4,1180.7 L2341.4,1179.2 L2341.4,1177.7 L2341.4,1176.2 L2341.4,1174.7 L2341.4,1173.2 L2341.4,1171.7 L2341.4,1170.2 L2341.5,1168.7 L2341.5,1167.2 L2341.5,1165.7 L2341.5,1164.2 L2341.5,1162.7 L2341.5,1161.2 L2341.5,1159.7 L2341.5,1158.2 L2341.5,1156.7 L2341.5,1155.2 L2341.5,1153.7 L2341.5,1152.2 L2341.5,1150.7 L2341.6,1149.2 L2341.6,1147.7 L2341.6,1146.2 L2341.6,1144.7 L2341.6,1143.2 L2341.6,1141.7 L2341.6,1140.2 L2341.6,1138.7 L2341.6,1137.2 L2341.6,1135.7 L2341.6,1134.2 L2341.6,1132.7 L2341.6,1131.2 L2341.7,1129.7 L2341.7,1128.2 L2341.7,1126.7 L2341.7,1125.2 L2341.7,1123.7 L2341.7,1122.2 L2341.7,1120.7 L2341.7,1119.2 L2341.7,1117.7 L2341.7,1116.2 L2341.7,1114.7 L2341.7,1113.2 L2341.7,1111.7 L2341.8,1110.1 L2341.8,1108.6 L2341.8,1107.1 L2341.8,1105.6 L2341.8,1104.1 L2341.8,1102.6 L2341.8,1101.1 L2341.8,1099.6 L2341.8,1098.1 L2341.8,1096.6 L2341.8,1095.1 L2341.8,1093.6 L2341.9,1092.1 L2341.9,1090.6 L2341.9,1089.1 L2341.9,1087.6 L2341.9,1086.1 L2341.9,1084.6 L2341.9,1083.1 L2341.9,1081.6 L2341.9,1080.1 L2341.9,1078.6 L2341.9,1077.1 L2341.9,1075.6 L2342.0,1074.1 L2342.0,1072.6 L2342.0,1071.1 L2342.0,1069.6 L2342.0,1068.1 L2342.0,1066.6 L2342.0,1065.1 L2342.0,1063.6 L2342.0,1062.1 L2342.0,1060.6 L2342.0,1059.1 L2342.0,1057.6 L2342.1,1056.1 L2342.1,1054.6 L2342.1,1053.1 L2342.1,1051.6 L2342.1,1050.1 L2342.1,1048.6 L2342.1,1047.1 L2342.1,1045.6 L2342.1,1044.1 L2342.1,1042.6 L2342.1,1041.1 L2342.2,1039.5 L2342.2,1038.0 L2342.2,1036.5 L2342.2,1035.0 L2342.2,1033.5 L2342.2,1032.0 L2342.2,1030.5 L2342.2,1029.0 L2342.2,1027.5 L2342.2,1026.0 L2342.2,1024.5 L2342.3,1023.0 L2342.3,1021.5 L2342.3,1020.0 L2342.3,1018.5 L2342.3,1017.0 L2342.3,1015.5 L2342.3,1014.0 L2342.3,1012.5 L2342.3,1011.0 L2342.3,1009.5 L2342.3,1008.0 L2342.4,1006.5 L2342.4,1005.0 L2342.4,1003.5 L2342.4,1002.0 L2342.4,1000.5 L2342.4,999.0 L2342.4,997.5 L2342.4,996.0 L2342.4,994.5 L2342.4,993.0 L2342.4,991.5 L2342.5,990.0 L2342.5,988.5 L2342.5,987.0 L2342.5,985.5 L2342.5,984.0 L2342.5,982.5 L2342.5,981.0 L2342.5,979.5 L2342.5,978.0 L2342.5,976.5 L2342.6,975.0 L2342.6,973.5 L2342.6,972.0 L2342.6,970.5 L2342.6,968.9 L2342.6,967.4 L2342.6,965.9 L2342.6,964.4 L2342.6,962.9 L2342.6,961.4 L2342.7,959.9 L2342.7,958.4 L2342.7,956.9 L2342.7,955.4 L2342.7,953.9 L2342.7,952.4 L2342.7,950.9 L2342.7,949.4 L2342.7,947.9 L2342.7,946.4 L2342.8,944.9 L2342.8,943.4 L2342.8,941.9 L2342.8,940.4 L2342.8,938.9 L2342.8,937.4 L2342.8,935.9 L2342.8,934.4 L2342.8,932.9 L2342.8,931.4 L2342.9,929.9 L2342.9,928.4 L2342.9,926.9 L2342.9,925.4 L2342.9,923.9 L2342.9,922.4 L2342.9,920.9 L2342.9,919.4 L2342.9,917.9 L2343.0,916.4 L2343.0,914.9 L2343.0,913.4 L2343.0,911.9 L2343.0,910.4 L2343.0,908.9 L2343.0,907.4 L2343.0,905.9 L2343.0,904.4 L2343.1,902.9 L2343.1,901.4 L2343.1,899.9 L2343.1,898.4 L2343.1,896.8 L2343.1,895.3 L2343.1,893.8 L2343.1,892.3 L2343.1,890.8 L2343.2,889.3 L2343.2,887.8 L2343.2,886.3 L2343.2,884.8 L2343.2,883.3 L2343.2,881.8 L2343.2,880.3 L2343.2,878.8 L2343.2,877.3 L2343.3,875.8 L2343.3,874.3 L2343.3,872.8 L2343.3,871.3 L2343.3,869.8 L2343.3,868.3 L2343.3,866.8 L2343.3,865.3 L2343.3,863.8 L2343.4,862.3 L2343.4,860.8 L2343.4,859.3 L2343.4,857.8 L2343.4,856.3 L2343.4,854.8 L2343.4,853.3 L2343.4,851.8 L2343.5,850.3 L2343.5,848.8 L2343.5,847.3 L2343.5,845.8 L2343.5,844.3 L2343.5,842.8 L2343.5,841.3 L2343.5,839.8 L2343.5,838.3 L2343.6,836.8 L2343.6,835.3 L2343.6,833.8 L2343.6,832.3 L2343.6,830.8 L2343.6,829.3 L2343.6,827.8 L2343.6,826.3 L2343.7,824.7 L2343.7,823.2 L2343.7,821.7 L2343.7,820.2 L2343.7,818.7 L2343.7,817.2 L2343.7,815.7 L2343.7,814.2 L2343.8,812.7 L2343.8,811.2 L2343.8,809.7 L2343.8,808.2 L2343.8,806.7 L2343.8,805.2 L2343.8,803.7 L2343.8,802.2 L2343.9,800.7 L2343.9,799.2 L2343.9,797.7 L2343.9,796.2 L2343.9,794.7 L2343.9,793.2 L2343.9,791.7 L2344.0,790.2 L2344.0,788.7 L2344.0,787.2 L2344.0,785.7 L2344.0,784.2 L2344.0,782.7 L2344.0,781.2 L2344.0,779.7 L2344.1,778.2 L2344.1,776.7 L2344.1,775.2 L2344.1,773.7 L2344.1,772.2 L2344.1,770.7 L2344.1,769.2 L2344.2,767.7 L2344.2,766.2 L2344.2,764.7 L2344.2,763.2 L2344.2,761.7 L2344.2,760.2 L2344.2,758.7 L2344.2,757.2 L2344.3,755.7 L2344.3,754.2 L2344.3,752.7 L2344.3,751.1 L2344.3,749.6 L2344.3,748.1 L2344.3,746.6 L2344.4,745.1 L2344.4,743.6 L2344.4,742.1 L2344.4,740.6 L2344.4,739.1 L2344.4,737.6 L2344.4,736.1 L2344.5,734.6 L2344.5,733.1 L2344.5,731.6 L2344.5,730.1 L2344.5,728.6 L2344.5,727.1 L2344.5,725.6 L2344.6,724.1 L2344.6,722.6 L2344.6,721.1 L2344.6,719.6 L2344.6,718.1 L2344.6,716.6 L2344.6,715.1 L2344.7,713.6 L2344.7,712.1 L2344.7,710.6 L2344.7,709.1 L2344.7,707.6 L2344.7,706.1 L2344.7,704.6 L2344.8,703.1 L2344.8,701.6 L2344.8,700.1 L2344.8,698.6 L2344.8,697.1 L2344.8,695.6 L2344.9,694.1 L2344.9,692.6 L2344.9,691.1 L2344.9,689.6 L2344.9,688.1 L2344.9,686.6 L2344.9,685.1 L2345.0,683.6 L2345.0,682.1 L2345.0,680.6 L2345.0,679.1 L2345.0,677.5 L2345.0,676.0 L2345.1,674.5 L2345.1,673.0 L2345.1,671.5 L2345.1,670.0 L2345.1,668.5 L2345.1,667.0 L2345.2,665.5 L2345.2,664.0 L2345.2,662.5 L2345.2,661.0 L2345.2,659.5 L2345.2,658.0 L2345.2,656.5 L2345.3,655.0 L2345.3,653.5 L2345.3,652.0 L2345.3,650.5 L2345.3,649.0 L2345.3,647.5 L2345.4,646.0 L2345.4,644.5 L2345.4,643.0 L2345.4,641.5 L2345.4,640.0 L2345.4,638.5 L2345.5,637.0 L2345.5,635.5 L2345.5,634.0 L2345.5,632.5 L2345.5,631.0 L2345.5,629.5 L2345.6,628.0 L2345.6,626.5 L2345.6,625.0 L2345.6,623.5 L2345.6,622.0 L2345.6,620.5 L2345.7,619.0 L2345.7,617.5 L2345.7,616.0 L2345.7,614.5 L2345.7,613.0 L2345.7,611.5 L2345.8,610.0 L2345.8,608.5 L2345.8,607.0 L2345.8,605.5 L2345.8,604.0 L2345.9,602.5 L2345.9,600.9 L2345.9,599.4 L2345.9,597.9 L2345.9,596.4 L2345.9,594.9 L2346.0,593.4 L2346.0,591.9 L2346.0,590.4 L2346.0,588.9 L2346.0,587.4 L2346.0,585.9 L2346.1,584.4 L2346.1,582.9 L2346.1,581.4 L2346.1,579.9 L2346.1,578.4 L2346.2,576.9 L2346.2,575.4 L2346.2,573.9 L2346.2,572.4 L2346.2,570.9 L2346.2,569.4 L2346.3,567.9 L2346.3,566.4 L2346.3,564.9 L2346.3,563.4 L2346.3,561.9 L2346.4,560.4 L2346.4,558.9 L2346.4,557.4 L2346.4,555.9 L2346.4,554.4 L2346.5,552.9 L2346.5,551.4 L2346.5,549.9 L2346.5,548.4 L2346.5,546.9 L2346.5,545.4 L2346.6,543.9 L2346.6,542.4 L2346.6,540.9 L2346.6,539.4 L2346.6,537.9 L2346.7,536.4 L2346.7,534.9 L2346.7,533.4 L2346.7,531.9 L2346.7,530.4 L2346.8,528.9 L2346.8,527.4 L2346.8,525.9 L2346.8,524.4 L2346.8,522.8 L2346.9,521.3 L2346.9,519.8 L2346.9,518.3 L2346.9,516.8 L2346.9,515.3 L2347.0,513.8 L2347.0,512.3 L2347.0,510.8 L2347.0,509.3 L2347.0,507.8 L2347.1,506.3 L2347.1,504.8 L2347.1,503.3 L2347.1,501.8 L2347.1,500.3 L2347.2,498.8 L2347.2,497.3 L2347.2,495.8 L2347.2,494.3 L2347.2,492.8 L2347.3,491.3 L2347.3,489.8 L2347.3,488.3 L2347.3,486.8 L2347.3,485.3 L2347.4,483.8 L2347.4,482.3 L2347.4,480.8 L2347.4,479.3 L2347.4,477.8 L2347.5,476.3 L2347.5,474.8 L2347.5,473.3 L2347.5,471.8 L2347.6,470.3 L2347.6,468.8 L2347.6,467.3 L2347.6,465.8 L2347.6,464.3 L2347.7,462.8 L2347.7,461.3 L2347.7,459.8 L2347.7,458.3 L2347.7,456.8 L2347.8,455.3 L2347.8,453.8 L2347.8,452.3 L2347.8,450.8 L2347.9,449.3 L2347.9,447.8 L2347.9,446.3 L2347.9,444.8 L2347.9,443.2 L2348.0,441.7 L2348.0,440.2 L2348.0,438.7 L2348.0,437.2 L2348.1,435.7 L2348.1,434.2 L2348.1,432.7 L2348.1,431.2 L2348.1,429.7 L2348.2,428.2 L2348.2,426.7 L2348.2,425.2 L2348.2,423.7 L2348.3,422.2 L2348.3,420.7 L2348.3,419.2 L2348.3,417.7 L2348.3,416.2 L2348.4,414.7 L2348.4,413.2 L2348.4,411.7 L2348.4,410.2 L2348.5,408.7 L2348.5,407.2 L2348.5,405.7 L2348.5,404.2 L2348.6,402.7 L2348.6,401.2 L2348.6,399.7 L2348.6,398.2 L2348.6,396.7 L2348.7,395.2 L2348.7,393.7 L2348.7,392.2 L2348.7,390.7 L2348.8,389.2 L2348.8,387.7 L2348.8,386.2 L2348.8,384.7 L2348.9,383.2 L2348.9,381.7 L2348.9,380.2 L2348.9,378.7 L2349.0,377.2 L2349.0,375.7 L2349.0,374.2 L2349.0,372.7 L2349.1,371.2 L2349.1,369.7 L2349.1,368.2 L2349.1,366.7 L2349.2,365.2 L2349.2,363.7 L2349.2,362.2 L2349.2,360.6 L2349.3,359.1 L2349.3,357.6 L2349.3,356.1 L2349.3,354.6 L2349.4,353.1 L2349.4,351.6 L2349.4,350.1 L2349.4,348.6 L2349.5,347.1 L2349.5,345.6 L2349.5,344.1 L2349.5,342.6 L2349.6,341.1 L2349.6,339.6 L2349.6,338.1 L2349.6,336.6 L2349.7,335.1 L2349.7,333.6 L2349.7,332.1 L2349.7,330.6 L2349.8,329.1 L2349.8,327.6 L2349.8,326.1 L2349.8,324.6 L2349.9,323.1 L2349.9,321.6 L2349.9,320.1 L2349.9,318.6 L2350.0,317.1 L2350.0,315.6 L2350.0,314.1 L2350.0,312.6 L2350.1,311.1 L2350.1,309.6 L2350.1,308.1 L2350.1,306.6 L2350.2,305.1 L2350.2,303.6 L2350.2,302.1 L2350.3,300.6 L2350.3,299.1 L2350.3,297.6 L2350.3,296.1 L2350.4,294.6 L2350.4,293.1 L2350.4,291.6 L2350.4,290.1 L2350.5,288.6 L2350.5,287.1 L2350.5,285.6 L2350.6,284.1 L2350.6,282.6 L2350.6,281.1 L2350.6,279.6 L2350.7,278.1 L2350.7,276.6 L2350.7,275.0 L2350.7,273.5 L2350.8,272.0 L2350.8,270.5 L2350.8,269.0 L2350.9,267.5 L2350.9,266.0 L2350.9,264.5 L2350.9,263.0 L2351.0,261.5 L2351.0,260.0 L2351.0,258.5 L2351.1,257.0 L2351.1,255.5 L2351.1,254.0 L2351.1,252.5 L2351.2,251.0 L2351.2,249.5 L2351.2,248.0 L2351.3,246.5 L2351.3,245.0 L2351.3,243.5 L2351.3,242.0 L2351.4,240.5 L2351.4,239.0 L2351.4,237.5 L2351.5,236.0 L2351.5,234.5 L2351.5,233.0 L2351.5,231.5 L2351.6,230.0 L2351.6,228.5 L2351.6,227.0 L2351.7,225.5 L2351.7,224.0 L2351.7,222.5 L2351.8,221.0 L2351.8,219.5 L2351.8,218.0 L2351.8,216.5 L2351.9,215.0 L2351.9,213.5 L2351.9,212.0 L2352.0,210.5 L2352.0,209.0 L2352.0,207.5 L2352.1,206.0 L2352.1,204.5 L2352.1,203.0 L2352.1,201.5 L2352.2,200.0 L2352.2,198.5 L2352.2,197.0 L2352.3,195.5 L2352.3,194.0 L2352.3,192.5 L2352.4,191.0 L2352.4,189.5 L2352.4,188.0 L2352.4,186.5 L2352.5,184.9 L2352.5,183.4 L2352.5,181.9 L2352.6,180.4 L2352.6,178.9 L2352.6,177.4 L2352.7,175.9 L2352.7,174.4 L2352.7,172.9 L2352.8,171.4 L2352.8,169.9 L2352.8,168.4 L2352.9,166.9 L2352.9,165.4 L2352.9,163.9 L2353.0,162.4 L2353.0,160.9 L2353.0,159.4 L2353.0,157.9 L2353.1,156.4 L2353.1,154.9 L2353.1,153.4 L2353.2,151.9 L2353.2,150.4 L2353.2,148.9 L2353.3,147.4 L2353.3,145.9 L2353.3,144.4 L2353.4,142.9 L2353.4,141.4 L2353.4,139.9 L2353.5,138.4 L2353.5,136.9 L2353.5,135.4 L2353.6,133.9 L2353.6,132.4 L2353.6,130.9 L2353.7,129.4 L2353.7,127.9 L2355.3,126.5 L2356.1,127.9 L2356.2,129.4 L2356.3,130.9 L2356.4,132.4 L2356.5,133.9 L2356.6,135.4 L2356.7,136.9 L2356.8,138.4 L2356.9,139.9 L2357.0,141.4 L2357.1,142.9 L2357.2,144.4 L2357.3,145.9 L2357.4,147.4 L2357.5,148.9 L2357.6,150.4 L2357.6,151.9 L2357.7,153.4 L2357.8,154.9 L2357.9,156.4 L2358.0,157.9 L2358.1,159.4 L2358.2,160.9 L2358.3,162.4 L2358.3,163.9 L2358.4,165.4 L2358.5,166.9 L2358.6,168.4 L2358.7,169.9 L2358.7,171.5 L2358.8,173.0 L2358.9,174.5 L2359.0,176.0 L2359.0,177.5 L2359.1,179.0 L2359.2,180.5 L2359.3,182.0 L2359.3,183.5 L2359.4,185.0 L2359.5,186.5 L2359.6,188.0 L2359.6,189.5 L2359.7,191.0 L2359.8,192.5 L2359.8,194.0 L2359.9,195.5 L2360.0,197.0 L2360.0,198.5 L2360.1,200.0 L2360.2,201.5 L2360.2,203.0 L2360.3,204.5 L2360.4,206.0 L2360.4,207.5 L2360.5,209.0 L2360.5,210.5 L2360.6,212.0 L2360.7,213.5 L2360.7,215.0 L2360.8,216.5 L2360.8,218.0 L2360.9,219.5 L2361.0,221.0 L2361.0,222.5 L2361.1,224.0 L2361.1,225.5 L2361.2,227.0 L2361.2,228.5 L2361.3,230.0 L2361.3,231.6 L2361.4,233.1 L2361.4,234.6 L2361.5,236.1 L2361.6,237.6 L2361.6,239.1 L2361.7,240.6 L2361.7,242.1 L2361.8,243.6 L2361.8,245.1 L2361.8,246.6 L2361.9,248.1 L2361.9,249.6 L2362.0,251.1 L2362.0,252.6 L2362.1,254.1 L2362.1,255.6 L2362.2,257.1 L2362.2,258.6 L2362.3,260.1 L2362.3,261.6 L2362.3,263.1 L2362.4,264.6 L2362.4,266.1 L2362.5,267.6 L2362.5,269.1 L2362.6,270.7 L2362.6,272.2 L2362.6,273.7 L2362.7,275.2 L2362.7,276.7 L2362.8,278.2 L2362.8,279.7 L2362.8,281.2 L2362.9,282.7 L2362.9,284.2 L2362.9,285.7 L2363.0,287.2 L2363.0,288.7 L2363.1,290.2 L2363.1,291.7 L2363.1,293.2 L2363.2,294.7 L2363.2,296.2 L2363.2,297.7 L2363.3,299.2 L2363.3,300.7 L2363.3,302.2 L2363.4,303.8 L2363.4,305.3 L2363.4,306.8 L2363.5,308.3 L2363.5,309.8 L2363.5,311.3 L2363.6,312.8 L2363.6,314.3 L2363.6,315.8 L2363.7,317.3 L2363.7,318.8 L2363.7,320.3 L2363.8,321.8 L2363.8,323.3 L2363.8,324.8 L2363.8,326.3 L2363.9,327.8 L2363.9,329.3 L2363.9,330.8 L2364.0,332.3 L2364.0,333.9 L2364.0,335.4 L2364.1,336.9 L2364.1,338.4 L2364.1,339.9 L2364.1,341.4 L2364.2,342.9 L2364.2,344.4 L2364.2,345.9 L2364.3,347.4 L2364.3,348.9 L2364.3,350.4 L2364.3,351.9 L2364.4,353.4 L2364.4,354.9 L2364.4,356.4 L2364.4,357.9 L2364.5,359.4 L2364.5,360.9 L2364.5,362.4 L2364.6,364.0 L2364.6,365.5 L2364.6,367.0 L2364.6,368.5 L2364.7,370.0 L2364.7,371.5 L2364.7,373.0 L2364.7,374.5 L2364.8,376.0 L2364.8,377.5 L2364.8,379.0 L2364.9,380.5 L2364.9,382.0 L2364.9,383.5 L2364.9,385.0 L2365.0,386.5 L2365.0,388.0 L2365.0,389.5 L2365.0,391.1 L2365.1,392.6 L2365.1,394.1 L2365.1,395.6 L2365.1,397.1 L2365.2,398.6 L2365.2,400.1 L2365.2,401.6 L2365.3,403.1 L2365.3,404.6 L2365.3,406.1 L2365.3,407.6 L2365.4,409.1 L2365.4,410.6 L2365.4,412.1 L2365.5,413.6 L2365.5,415.1 L2365.5,416.6 L2365.5,418.1 L2365.6,419.7 L2365.6,421.2 L2365.6,422.7 L2365.7,424.2 L2365.7,425.7 L2365.7,427.2 L2365.7,428.7 L2365.8,430.2 L2365.8,431.7 L2365.8,433.2 L2365.9,434.7 L2365.9,436.2 L2365.9,437.7 L2366.0,439.2 L2366.0,440.7 L2366.0,442.2 L2366.1,443.7 L2366.1,445.2 L2366.1,446.7 L2366.1,448.2 L2366.2,449.8 L2366.2,451.3 L2366.2,452.8 L2366.3,454.3 L2366.3,455.8 L2366.3,457.3 L2366.4,458.8 L2366.4,460.3 L2366.5,461.8 L2366.5,463.3 L2366.5,464.8 L2366.6,466.3 L2366.6,467.8 L2366.6,469.3 L2366.7,470.8 L2366.7,472.3 L2366.7,473.8 L2366.8,475.3 L2366.8,476.8 L2366.9,478.3 L2366.9,479.8 L2366.9,481.4 L2367.0,482.9 L2367.0,484.4 L2367.1,485.9 L2367.1,487.4 L2367.1,488.9 L2367.2,490.4 L2367.2,491.9 L2367.3,493.4 L2367.3,494.9 L2367.4,496.4 L2367.4,497.9 L2367.4,499.4 L2367.5,500.9 L2367.5,502.4 L2367.6,503.9 L2367.6,505.4 L2367.7,506.9 L2367.7,508.4 L2367.8,509.9 L2367.8,511.4 L2367.9,512.9 L2367.9,514.4 L2368.0,515.9 L2368.0,517.5 L2368.1,519.0 L2368.1,520.5 L2368.2,522.0 L2368.2,523.5 L2368.3,525.0 L2368.3,526.5 L2368.4,528.0 L2368.4,529.5 L2368.5,531.0 L2368.5,532.5 L2368.6,534.0 L2368.7,535.5 L2368.7,537.0 L2368.8,538.5 L2368.8,540.0 L2368.9,541.5 L2368.9,543.0 L2369.0,544.5 L2369.1,546.0 L2369.1,547.5 L2369.2,549.0 L2369.3,550.5 L2369.3,552.0 L2369.4,553.5 L2369.4,555.0 L2369.5,556.5 L2369.6,558.0 L2369.6,559.5 L2369.7,561.0 L2369.8,562.6 L2369.8,564.1 L2369.9,565.6 L2370.0,567.1 L2370.1,568.6 L2370.1,570.1 L2370.2,571.6 L2370.3,573.1 L2370.3,574.6 L2370.4,576.1 L2370.5,577.6 L2370.6,579.1 L2370.6,580.6 L2370.7,582.1 L2370.8,583.6 L2370.9,585.1 L2371.0,586.6 L2371.0,588.1 L2371.1,589.6 L2371.2,591.1 L2371.3,592.6 L2371.4,594.1 L2371.4,595.6 L2371.5,597.1 L2371.6,598.6 L2371.7,600.1 L2371.8,601.6 L2371.9,603.1 L2372.0,604.6 L2372.1,606.1 L2372.1,607.6 L2372.2,609.1 L2372.3,610.6 L2372.4,612.1 L2372.5,613.6 L2372.6,615.1 L2372.7,616.6 L2372.8,618.1 L2372.9,619.6 L2373.0,621.1 L2373.1,622.6 L2373.2,624.1 L2373.3,625.6 L2373.4,627.1 L2373.5,628.6 L2373.6,630.1 L2373.7,631.6 L2373.8,633.1 L2373.9,634.6 L2374.0,636.1 L2374.1,637.6 L2374.2,639.1 L2374.3,640.6 L2374.5,642.1 L2374.6,643.6 L2374.7,645.1 L2374.8,646.6 L2374.9,648.1 L2375.0,649.6 L2375.1,651.1 L2375.3,652.6 L2375.4,654.1 L2375.5,655.6 L2375.6,657.1 L2375.7,658.6 L2375.9,660.1 L2376.0,661.6 L2376.1,663.1 L2376.2,664.6 L2376.4,666.1 L2376.5,667.6 L2376.6,669.1 L2376.8,670.6 L2376.9,672.1 L2377.0,673.6 L2377.2,675.1 L2377.3,676.6 L2377.4,678.1 L2377.6,679.6 L2378.6,681.0" fill="none" stroke="#008000" stroke-width="6.25" stroke-linecap="square" stroke-linejoin="round" clip-path="url(#ax)"/>
<line x1="558.64" y1="2170.40" x2="558.64" y2="2184.98" stroke="#000" stroke-width="3.33"/>
<line x1="1013.85" y1="2170.40" x2="1013.85" y2="2184.98" stroke="#000" stroke-width="3.33"/>
<line x1="1469.05" y1="2170.40" x2="1469.05" y2="2184.98" stroke="#000" stroke-width="3.33"/>
<line x1="1924.25" y1="2170.40" x2="1924.25" y2="2184.98" stroke="#000" stroke-width="3.33"/>
<line x1="2379.46" y1="2170.40" x2="2379.46" y2="2184.98" stroke="#000" stroke-width="3.33"/>
<line x1="488.13" y1="2170.40" x2="488.13" y2="2178.73" stroke="#000" stroke-width="2.5"/>
<line x1="514.53" y1="2170.40" x2="514.53" y2="2178.73" stroke="#000" stroke-width="2.5"/>
<line x1="537.81" y1="2170.40" x2="537.81" y2="2178.73" stroke="#000" stroke-width="2.5"/>
<line x1="695.67" y1="2170.40" x2="695.67" y2="2178.73" stroke="#000" stroke-width="2.5"/>
<line x1="775.83" y1="2170.40" x2="775.83" y2="2178.73" stroke="#000" stroke-width="2.5"/>
<line x1="832.70" y1="2170.40" x2="832.70" y2="2178.73" stroke="#000" stroke-width="2.5"/>
<line x1="876.82" y1="2170.40" x2="876.82" y2="2178.73" stroke="#000" stroke-width="2.5"/>
<line x1="912.86" y1="2170.40" x2="912.86" y2="2178.73" stroke="#000" stroke-width="2.5"/>
<line x1="943.33" y1="2170.40" x2="943.33" y2="2178.73" stroke="#000" stroke-width="2.5"/>
<line x1="969.73" y1="2170.40" x2="969.73" y2="2178.73" stroke="#000" stroke-width="2.5"/>
<line x1="993.02" y1="2170.40" x2="993.02" y2="2178.73" stroke="#000" stroke-width="2.5"/>
<line x1="1150.88" y1="2170.40" x2="1150.88" y2="2178.73" stroke="#000" stroke-width="2.5"/>
<line x1="1231.03" y1="2170.40" x2="1231.03" y2="2178.73" stroke="#000" stroke-width="2.5"/>
<line x1="1287.91" y1="2170.40" x2="1287.91" y2="2178.73" stroke="#000" stroke-width="2.5"/>
<line x1="1332.02" y1="2170.40" x2="1332.02" y2="2178.73" stroke="#000" stroke-width="2.5"/>
<line x1="1368.06" y1="2170.40" x2="1368.06" y2="2178.73" stroke="#000" stroke-width="2.5"/>
<line x1="1398.54" y1="2170.40" x2="1398.54" y2="2178.73" stroke="#000" stroke-width="2.5"/>
<line x1="1424.94" y1="2170.40" x2="1424.94" y2="2178.73" stroke="#000" stroke-width="2.5"/>
<line x1="1448.22" y1="2170.40" x2="1448.22" y2="2178.73" stroke="#000" stroke-width="2.5"/>
<line x1="1606.08" y1="2170.40" x2="1606.08" y2="2178.73" stroke="#000" stroke-width="2.5"/>
<line x1="1686.24" y1="2170.40" x2="1686.24" y2="2178.73" stroke="#000" stroke-width="2.5"/>
<line x1="1743.11" y1="2170.40" x2="1743.11" y2="2178.73" stroke="#000" stroke-width="2.5"/>
<line x1="1787.22" y1="2170.40" x2="1787.22" y2="2178.73" stroke="#000" stroke-width="2.5"/>
<line x1="1823.27" y1="2170.40" x2="1823.27" y2="2178.73" stroke="#000" stroke-width="2.5"/>
<line x1="1853.74" y1="2170.40" x2="1853.74" y2="2178.73" stroke="#000" stroke-width="2.5"/>
<line x1="1880.14" y1="2170.40" x2="1880.14" y2="2178.73" stroke="#000" stroke-width="2.5"/>
<line x1="1903.43" y1="2170.40" x2="1903.43" y2="2178.73" stroke="#000" stroke-width="2.5"/>
<line x1="2061.28" y1="2170.40" x2="2061.28" y2="2178.73" stroke="#000" stroke-width="2.5"/>
<line x1="2141.44" y1="2170.40" x2="2141.44" y2="2178.73" stroke="#000" stroke-width="2.5"/>
<line x1="2198.31" y1="2170.40" x2="2198.31" y2="2178.73" stroke="#000" stroke-width="2.5"/>
<line x1="2242.43" y1="2170.40" x2="2242.43" y2="2178.73" stroke="#000" stroke-width="2.5"/>
<line x1="2278.47" y1="2170.40" x2="2278.47" y2="2178.73" stroke="#000" stroke-width="2.5"/>
<line x1="2308.95" y1="2170.40" x2="2308.95" y2="2178.73" stroke="#000" stroke-width="2.5"/>
<line x1="2335.35" y1="2170.40" x2="2335.35" y2="2178.73" stroke="#000" stroke-width="2.5"/>
<line x1="2358.63" y1="2170.40" x2="2358.63" y2="2178.73" stroke="#000" stroke-width="2.5"/>
<line x1="467.60" y1="2073.30" x2="453.02" y2="2073.30" stroke="#000" stroke-width="3.33"/>
<line x1="467.60" y1="1633.15" x2="453.02" y2="1633.15" stroke="#000" stroke-width="3.33"/>
<line x1="467.60" y1="1193.00" x2="453.02" y2="1193.00" stroke="#000" stroke-width="3.33"/>
<line x1="467.60" y1="752.85" x2="453.02" y2="752.85" stroke="#000" stroke-width="3.33"/>
<line x1="467.60" y1="312.70" x2="453.02" y2="312.70" stroke="#000" stroke-width="3.33"/>
<rect x="467.6" y="29.4" width="2002.9" height="2141.0" fill="none" stroke="#000" stroke-width="3.33" stroke-linejoin="miter"/>
<text transform="translate(437.80,2105.90) scale(1.0000,1.0250)" font-size="100" text-anchor="end">0</text>
<text transform="translate(437.80,1665.75) scale(1.0000,1.0250)" font-size="100" text-anchor="end">200000</text>
<text transform="translate(437.80,1225.60) scale(1.0000,1.0250)" font-size="100" text-anchor="end">400000</text>
<text transform="translate(437.80,785.45) scale(1.0000,1.0250)" font-size="100" text-anchor="end">600000</text>
<text transform="translate(437.80,345.30) scale(1.0000,1.0250)" font-size="100" text-anchor="end">800000</text>
<text transform="translate(469.70,2291.40) scale(1.0000,1.0250)" font-size="100">10</text>
<rect x="573.20" y="2204.20" width="37.70" height="4.70" fill="#000"/>
<text transform="translate(611.00,2230.30) scale(1.0000,1.0250)" font-size="70">2</text>
<text transform="translate(926.70,2291.40) scale(1.0000,1.0250)" font-size="100">10</text>
<rect x="1030.20" y="2204.20" width="37.70" height="4.70" fill="#000"/>
<text transform="translate(1068.00,2230.30) scale(1.0000,1.0250)" font-size="70">1</text>
<text transform="translate(1400.00,2291.40) scale(1.0000,1.0250)" font-size="100">10</text>
<text transform="translate(1501.30,2230.30) scale(1.0000,1.0250)" font-size="70">0</text>
<text transform="translate(1856.80,2291.40) scale(1.0000,1.0250)" font-size="100">10</text>
<text transform="translate(1958.10,2230.30) scale(1.0000,1.0250)" font-size="70">1</text>
<text transform="translate(2311.00,2291.40) scale(1.0000,1.0250)" font-size="100">10</text>
<text transform="translate(2412.30,2230.30) scale(1.0000,1.0250)" font-size="70">2</text>
<text transform="translate(1191.30,2441.30) scale(1.0000,1.0200)" font-size="100">n</text>
<text transform="translate(1269.91,2441.30) scale(1.0900,0.9620)" font-size="100">(</text>
<text transform="translate(1302.40,2441.30) scale(1.0000,1.0250)" font-size="100">10</text>
<text transform="translate(1405.40,2380.30) scale(1.0000,1.0250)" font-size="70">20</text>
<text transform="translate(1508.30,2441.30)" font-size="100">cm</text>
<rect x="1638.10" y="2354.40" width="37.70" height="4.40" fill="#000"/>
<text transform="translate(1675.80,2380.30) scale(1.0000,1.0250)" font-size="70">3</text>
<text transform="translate(1714.09,2441.30) scale(1.0900,0.9620)" font-size="100">)</text>
<text transform="translate(97.90,1256.21) rotate(-90) scale(0.9740,0.8870)" font-size="100">σ</text>
<text transform="translate(97.90,1177.39) rotate(-90) scale(1.0900,0.9620)" font-size="100">(</text>
<text transform="translate(97.90,1144.12) rotate(-90) scale(1.0000,1.0270)" font-size="100">S</text>
<text transform="translate(97.90,1087.02) rotate(-90)" font-size="100">/</text>
<text transform="translate(97.90,1058.79) rotate(-90) scale(1.0000,0.9720)" font-size="100">m</text>
<text transform="translate(97.90,979.31) rotate(-90) scale(1.0900,0.9620)" font-size="100">)</text>
<rect x="517" y="79.5" width="486.8" height="341.3" rx="20" ry="20" fill="#ffffff" fill-opacity="0.8" stroke="#d6d6d6" stroke-width="3.33"/>
<line x1="557.2" y1="153.9" x2="756.9" y2="153.9" stroke="#bfbf00" stroke-width="6.25" stroke-linecap="square"/>
<line x1="557.2" y1="303.0" x2="756.9" y2="303.0" stroke="#008000" stroke-width="6.25" stroke-linecap="square"/>
<text transform="translate(837.99,189.10) scale(0.9740,0.8870)" font-size="100">σ</text>
<text transform="translate(894.20,215.10) scale(0.9750,1.0000)" font-size="70">xx</text>
<text transform="translate(837.99,337.80) scale(0.9740,0.8870)" font-size="100">σ</text>
<text transform="translate(893.20,364.00)" font-size="70">yy</text>
</svg></body></html>
